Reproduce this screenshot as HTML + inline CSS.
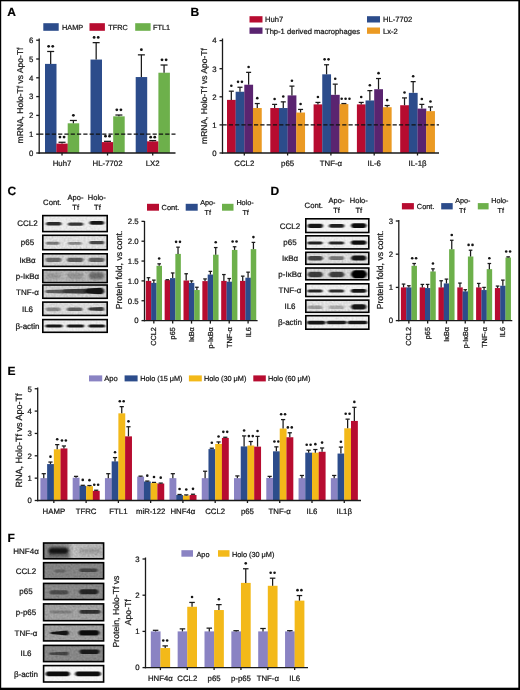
<!DOCTYPE html><html><head><meta charset="utf-8"><style>html,body{margin:0;padding:0;background:#fff;}svg{display:block;filter:blur(0.4px);}text{font-family:"Liberation Sans", sans-serif;stroke:#151515;stroke-width:0.22px;text-rendering:geometricPrecision;}</style></head><body><svg width="520" height="690" viewBox="0 0 520 690" font-family='"Liberation Sans", sans-serif'>
<defs><filter id="b1" x="-30%" y="-100%" width="160%" height="300%"><feGaussianBlur stdDeviation="0.9 0.7"/></filter><filter id="b2" x="-30%" y="-100%" width="160%" height="300%"><feGaussianBlur stdDeviation="1.4 1.0"/></filter><filter id="bb0_9" x="-30%" y="-150%" width="160%" height="400%"><feGaussianBlur stdDeviation="0.9 0.7"/></filter><filter id="bb1_3" x="-30%" y="-150%" width="160%" height="400%"><feGaussianBlur stdDeviation="1.3 1.0"/></filter><filter id="bb1_8" x="-30%" y="-150%" width="160%" height="400%"><feGaussianBlur stdDeviation="1.8 1.4"/></filter><filter id="noise" x="0" y="0" width="100%" height="100%"><feTurbulence type="fractalNoise" baseFrequency="0.5" numOctaves="2" seed="3"/><feColorMatrix type="matrix" values="0 0 0 0 0  0 0 0 0 0  0 0 0 0 0  0.8 0.8 0.8 0 -0.95"/></filter></defs>
<rect x="0" y="0" width="520" height="690" fill="#fff"/>
<text x="7.2" y="15.6" font-size="12" text-anchor="start" font-weight="bold" fill="#000">A</text>
<rect x="45" y="63.89" width="11.5" height="89.11" fill="#2c4c8b"/>
<line x1="50.67" y1="63.89" x2="50.67" y2="51.48" stroke="#1a1a1a" stroke-width="1.25"/>
<line x1="47.17" y1="51.48" x2="54.17" y2="51.48" stroke="#1a1a1a" stroke-width="1.25"/>
<circle cx="48.62" cy="46.28" r="1.4" fill="#151515"/>
<circle cx="52.73" cy="46.28" r="1.4" fill="#151515"/>
<rect x="56.35" y="143.6" width="11.5" height="9.4" fill="#b70c30"/>
<line x1="62.02" y1="143.6" x2="62.02" y2="142.28" stroke="#1a1a1a" stroke-width="1.25"/>
<line x1="58.52" y1="142.28" x2="65.53" y2="142.28" stroke="#1a1a1a" stroke-width="1.25"/>
<circle cx="59.98" cy="137.08" r="1.4" fill="#151515"/>
<circle cx="64.08" cy="137.08" r="1.4" fill="#151515"/>
<rect x="67.7" y="123.3" width="11.5" height="29.7" fill="#6db04b"/>
<line x1="73.38" y1="123.3" x2="73.38" y2="120.48" stroke="#1a1a1a" stroke-width="1.25"/>
<line x1="69.88" y1="120.48" x2="76.88" y2="120.48" stroke="#1a1a1a" stroke-width="1.25"/>
<circle cx="73.38" cy="115.28" r="1.4" fill="#151515"/>
<rect x="90.5" y="59.56" width="11.5" height="93.44" fill="#2c4c8b"/>
<line x1="96.17" y1="59.56" x2="96.17" y2="42.64" stroke="#1a1a1a" stroke-width="1.25"/>
<line x1="92.67" y1="42.64" x2="99.67" y2="42.64" stroke="#1a1a1a" stroke-width="1.25"/>
<circle cx="94.12" cy="37.44" r="1.4" fill="#151515"/>
<circle cx="98.22" cy="37.44" r="1.4" fill="#151515"/>
<rect x="101.85" y="142.1" width="11.5" height="10.9" fill="#b70c30"/>
<line x1="107.52" y1="142.1" x2="107.52" y2="141.34" stroke="#1a1a1a" stroke-width="1.25"/>
<line x1="104.02" y1="141.34" x2="111.02" y2="141.34" stroke="#1a1a1a" stroke-width="1.25"/>
<circle cx="105.47" cy="136.14" r="1.4" fill="#151515"/>
<circle cx="109.57" cy="136.14" r="1.4" fill="#151515"/>
<rect x="113.2" y="116.34" width="11.5" height="36.66" fill="#6db04b"/>
<line x1="118.88" y1="116.34" x2="118.88" y2="115.02" stroke="#1a1a1a" stroke-width="1.25"/>
<line x1="115.38" y1="115.02" x2="122.38" y2="115.02" stroke="#1a1a1a" stroke-width="1.25"/>
<circle cx="116.83" cy="109.82" r="1.4" fill="#151515"/>
<circle cx="120.92" cy="109.82" r="1.4" fill="#151515"/>
<rect x="135.7" y="77.05" width="11.5" height="75.95" fill="#2c4c8b"/>
<line x1="141.38" y1="77.05" x2="141.38" y2="54.86" stroke="#1a1a1a" stroke-width="1.25"/>
<line x1="137.88" y1="54.86" x2="144.88" y2="54.86" stroke="#1a1a1a" stroke-width="1.25"/>
<circle cx="141.38" cy="49.66" r="1.4" fill="#151515"/>
<rect x="147.05" y="141.34" width="11.5" height="11.66" fill="#b70c30"/>
<line x1="152.72" y1="141.34" x2="152.72" y2="140.59" stroke="#1a1a1a" stroke-width="1.25"/>
<line x1="149.22" y1="140.59" x2="156.22" y2="140.59" stroke="#1a1a1a" stroke-width="1.25"/>
<circle cx="150.67" cy="137.19" r="1.4" fill="#151515"/>
<circle cx="154.77" cy="137.19" r="1.4" fill="#151515"/>
<rect x="158.4" y="72.72" width="11.5" height="80.28" fill="#6db04b"/>
<line x1="164.07" y1="72.72" x2="164.07" y2="65.02" stroke="#1a1a1a" stroke-width="1.25"/>
<line x1="160.57" y1="65.02" x2="167.57" y2="65.02" stroke="#1a1a1a" stroke-width="1.25"/>
<circle cx="162.02" cy="59.82" r="1.4" fill="#151515"/>
<circle cx="166.12" cy="59.82" r="1.4" fill="#151515"/>
<line x1="39.2" y1="134.2" x2="175.5" y2="134.2" stroke="#111" stroke-width="1.3" stroke-dasharray="4.2 2.1"/>
<line x1="39.2" y1="38.5" x2="39.2" y2="153.65" stroke="#1a1a1a" stroke-width="1.3"/>
<line x1="38.55" y1="153" x2="175.5" y2="153" stroke="#1a1a1a" stroke-width="1.3"/>
<line x1="36.2" y1="153" x2="39.2" y2="153" stroke="#1a1a1a" stroke-width="1.3"/>
<text x="33.4" y="155.81" font-size="7.8" text-anchor="end" fill="#151515">0</text>
<line x1="36.2" y1="134.2" x2="39.2" y2="134.2" stroke="#1a1a1a" stroke-width="1.3"/>
<text x="33.4" y="137.01" font-size="7.8" text-anchor="end" fill="#151515">1</text>
<line x1="36.2" y1="115.4" x2="39.2" y2="115.4" stroke="#1a1a1a" stroke-width="1.3"/>
<text x="33.4" y="118.21" font-size="7.8" text-anchor="end" fill="#151515">2</text>
<line x1="36.2" y1="96.6" x2="39.2" y2="96.6" stroke="#1a1a1a" stroke-width="1.3"/>
<text x="33.4" y="99.41" font-size="7.8" text-anchor="end" fill="#151515">3</text>
<line x1="36.2" y1="77.8" x2="39.2" y2="77.8" stroke="#1a1a1a" stroke-width="1.3"/>
<text x="33.4" y="80.61" font-size="7.8" text-anchor="end" fill="#151515">4</text>
<line x1="36.2" y1="59" x2="39.2" y2="59" stroke="#1a1a1a" stroke-width="1.3"/>
<text x="33.4" y="61.81" font-size="7.8" text-anchor="end" fill="#151515">5</text>
<line x1="36.2" y1="40.2" x2="39.2" y2="40.2" stroke="#1a1a1a" stroke-width="1.3"/>
<text x="33.4" y="43.01" font-size="7.8" text-anchor="end" fill="#151515">6</text>
<line x1="62.02" y1="153" x2="62.02" y2="155.5" stroke="#1a1a1a" stroke-width="1.3"/>
<line x1="107.53" y1="153" x2="107.53" y2="155.5" stroke="#1a1a1a" stroke-width="1.3"/>
<line x1="152.72" y1="153" x2="152.72" y2="155.5" stroke="#1a1a1a" stroke-width="1.3"/>
<text x="62.02" y="166" font-size="7.8" text-anchor="middle" fill="#151515">Huh7</text>
<text x="107.53" y="166" font-size="7.8" text-anchor="middle" fill="#151515">HL-7702</text>
<text x="152.72" y="166" font-size="7.8" text-anchor="middle" fill="#151515">LX2</text>
<text x="22.5" y="95.5" font-size="8.5" text-anchor="middle" fill="#151515" transform="rotate(-90 22.5 95.5)">mRNA, Holo-Tf vs Apo-Tf</text>
<rect x="43.3" y="23.2" width="15.4" height="7.6" fill="#2c4c8b"/>
<text x="62" y="29.5" font-size="7.3" text-anchor="start" fill="#151515">HAMP</text>
<rect x="89.5" y="23.2" width="15.4" height="7.6" fill="#b70c30"/>
<text x="108.3" y="29.5" font-size="7.3" text-anchor="start" fill="#151515">TFRC</text>
<rect x="135.2" y="23.2" width="15.4" height="7.6" fill="#6db04b"/>
<text x="153" y="29.5" font-size="7.3" text-anchor="start" fill="#151515">FTL1</text>
<text x="190.5" y="15.6" font-size="12" text-anchor="start" font-weight="bold" fill="#000">B</text>
<rect x="227" y="99.89" width="8.8" height="53.11" fill="#b70c30"/>
<line x1="231.32" y1="99.89" x2="231.32" y2="91.18" stroke="#1a1a1a" stroke-width="1.25"/>
<line x1="228.82" y1="91.18" x2="233.82" y2="91.18" stroke="#1a1a1a" stroke-width="1.25"/>
<circle cx="231.32" cy="85.78" r="1.3" fill="#151515"/>
<rect x="235.65" y="91.74" width="8.8" height="61.26" fill="#2c4c8b"/>
<line x1="239.97" y1="91.74" x2="239.97" y2="87.25" stroke="#1a1a1a" stroke-width="1.25"/>
<line x1="237.47" y1="87.25" x2="242.47" y2="87.25" stroke="#1a1a1a" stroke-width="1.25"/>
<circle cx="238.03" cy="81.85" r="1.3" fill="#151515"/>
<circle cx="241.93" cy="81.85" r="1.3" fill="#151515"/>
<rect x="244.3" y="84.72" width="8.8" height="68.28" fill="#5a2470"/>
<line x1="248.62" y1="84.72" x2="248.62" y2="72.35" stroke="#1a1a1a" stroke-width="1.25"/>
<line x1="246.12" y1="72.35" x2="251.12" y2="72.35" stroke="#1a1a1a" stroke-width="1.25"/>
<circle cx="248.62" cy="66.95" r="1.3" fill="#151515"/>
<rect x="252.95" y="108.04" width="8.8" height="44.96" fill="#eb9a23"/>
<line x1="257.27" y1="108.04" x2="257.27" y2="103.54" stroke="#1a1a1a" stroke-width="1.25"/>
<line x1="254.77" y1="103.54" x2="259.77" y2="103.54" stroke="#1a1a1a" stroke-width="1.25"/>
<circle cx="257.27" cy="98.14" r="1.3" fill="#151515"/>
<rect x="270.3" y="108.04" width="8.8" height="44.96" fill="#b70c30"/>
<line x1="274.62" y1="108.04" x2="274.62" y2="104.39" stroke="#1a1a1a" stroke-width="1.25"/>
<line x1="272.12" y1="104.39" x2="277.12" y2="104.39" stroke="#1a1a1a" stroke-width="1.25"/>
<circle cx="274.62" cy="98.99" r="1.3" fill="#151515"/>
<rect x="278.95" y="108.04" width="8.8" height="44.96" fill="#2c4c8b"/>
<line x1="283.27" y1="108.04" x2="283.27" y2="101.86" stroke="#1a1a1a" stroke-width="1.25"/>
<line x1="280.77" y1="101.86" x2="285.77" y2="101.86" stroke="#1a1a1a" stroke-width="1.25"/>
<circle cx="283.27" cy="96.46" r="1.3" fill="#151515"/>
<rect x="287.6" y="95.4" width="8.8" height="57.6" fill="#5a2470"/>
<line x1="291.93" y1="95.4" x2="291.93" y2="86.12" stroke="#1a1a1a" stroke-width="1.25"/>
<line x1="289.43" y1="86.12" x2="294.43" y2="86.12" stroke="#1a1a1a" stroke-width="1.25"/>
<circle cx="291.93" cy="80.72" r="1.3" fill="#151515"/>
<rect x="296.25" y="112.54" width="8.8" height="40.46" fill="#eb9a23"/>
<line x1="300.57" y1="112.54" x2="300.57" y2="109.44" stroke="#1a1a1a" stroke-width="1.25"/>
<line x1="298.07" y1="109.44" x2="303.07" y2="109.44" stroke="#1a1a1a" stroke-width="1.25"/>
<circle cx="300.57" cy="104.04" r="1.3" fill="#151515"/>
<rect x="313.6" y="104.39" width="8.8" height="48.61" fill="#b70c30"/>
<line x1="317.93" y1="104.39" x2="317.93" y2="102.42" stroke="#1a1a1a" stroke-width="1.25"/>
<line x1="315.43" y1="102.42" x2="320.43" y2="102.42" stroke="#1a1a1a" stroke-width="1.25"/>
<circle cx="317.93" cy="97.02" r="1.3" fill="#151515"/>
<rect x="322.25" y="74.32" width="8.8" height="78.68" fill="#2c4c8b"/>
<line x1="326.57" y1="74.32" x2="326.57" y2="64.77" stroke="#1a1a1a" stroke-width="1.25"/>
<line x1="324.07" y1="64.77" x2="329.07" y2="64.77" stroke="#1a1a1a" stroke-width="1.25"/>
<circle cx="324.62" cy="59.37" r="1.3" fill="#151515"/>
<circle cx="328.52" cy="59.37" r="1.3" fill="#151515"/>
<rect x="330.9" y="94.83" width="8.8" height="58.17" fill="#5a2470"/>
<line x1="335.23" y1="94.83" x2="335.23" y2="84.15" stroke="#1a1a1a" stroke-width="1.25"/>
<line x1="332.73" y1="84.15" x2="337.73" y2="84.15" stroke="#1a1a1a" stroke-width="1.25"/>
<circle cx="335.23" cy="78.75" r="1.3" fill="#151515"/>
<rect x="339.55" y="104.11" width="8.8" height="48.89" fill="#eb9a23"/>
<line x1="343.88" y1="104.11" x2="343.88" y2="103.54" stroke="#1a1a1a" stroke-width="1.25"/>
<line x1="341.38" y1="103.54" x2="346.38" y2="103.54" stroke="#1a1a1a" stroke-width="1.25"/>
<circle cx="341.68" cy="98.74" r="1.3" fill="#151515"/>
<circle cx="345.57" cy="98.74" r="1.3" fill="#151515"/>
<circle cx="349.48" cy="98.74" r="1.3" fill="#151515"/>
<rect x="356.9" y="104.39" width="8.8" height="48.61" fill="#b70c30"/>
<line x1="361.22" y1="104.39" x2="361.22" y2="102.42" stroke="#1a1a1a" stroke-width="1.25"/>
<line x1="358.72" y1="102.42" x2="363.72" y2="102.42" stroke="#1a1a1a" stroke-width="1.25"/>
<circle cx="361.22" cy="97.02" r="1.3" fill="#151515"/>
<rect x="365.55" y="100.45" width="8.8" height="52.55" fill="#2c4c8b"/>
<line x1="369.87" y1="100.45" x2="369.87" y2="90.62" stroke="#1a1a1a" stroke-width="1.25"/>
<line x1="367.37" y1="90.62" x2="372.37" y2="90.62" stroke="#1a1a1a" stroke-width="1.25"/>
<circle cx="369.87" cy="85.22" r="1.3" fill="#151515"/>
<rect x="374.2" y="89.21" width="8.8" height="63.79" fill="#5a2470"/>
<line x1="378.52" y1="89.21" x2="378.52" y2="78.53" stroke="#1a1a1a" stroke-width="1.25"/>
<line x1="376.02" y1="78.53" x2="381.02" y2="78.53" stroke="#1a1a1a" stroke-width="1.25"/>
<circle cx="378.52" cy="73.13" r="1.3" fill="#151515"/>
<rect x="382.85" y="107.2" width="8.8" height="45.8" fill="#eb9a23"/>
<line x1="387.17" y1="107.2" x2="387.17" y2="105.51" stroke="#1a1a1a" stroke-width="1.25"/>
<line x1="384.67" y1="105.51" x2="389.67" y2="105.51" stroke="#1a1a1a" stroke-width="1.25"/>
<circle cx="387.17" cy="100.11" r="1.3" fill="#151515"/>
<rect x="400.2" y="105.23" width="8.8" height="47.77" fill="#b70c30"/>
<line x1="404.52" y1="105.23" x2="404.52" y2="97.92" stroke="#1a1a1a" stroke-width="1.25"/>
<line x1="402.02" y1="97.92" x2="407.02" y2="97.92" stroke="#1a1a1a" stroke-width="1.25"/>
<circle cx="404.52" cy="92.52" r="1.3" fill="#151515"/>
<rect x="408.85" y="92.87" width="8.8" height="60.13" fill="#2c4c8b"/>
<line x1="413.17" y1="92.87" x2="413.17" y2="81.63" stroke="#1a1a1a" stroke-width="1.25"/>
<line x1="410.67" y1="81.63" x2="415.67" y2="81.63" stroke="#1a1a1a" stroke-width="1.25"/>
<circle cx="413.17" cy="76.23" r="1.3" fill="#151515"/>
<rect x="417.5" y="108.6" width="8.8" height="44.4" fill="#5a2470"/>
<line x1="421.82" y1="108.6" x2="421.82" y2="104.39" stroke="#1a1a1a" stroke-width="1.25"/>
<line x1="419.32" y1="104.39" x2="424.32" y2="104.39" stroke="#1a1a1a" stroke-width="1.25"/>
<circle cx="421.82" cy="98.99" r="1.3" fill="#151515"/>
<rect x="426.15" y="111.13" width="8.8" height="41.87" fill="#eb9a23"/>
<line x1="430.47" y1="111.13" x2="430.47" y2="106.92" stroke="#1a1a1a" stroke-width="1.25"/>
<line x1="427.97" y1="106.92" x2="432.97" y2="106.92" stroke="#1a1a1a" stroke-width="1.25"/>
<circle cx="430.47" cy="101.52" r="1.3" fill="#151515"/>
<line x1="222.5" y1="124.9" x2="439" y2="124.9" stroke="#111" stroke-width="1.3" stroke-dasharray="4.2 2.1"/>
<line x1="222.5" y1="38.5" x2="222.5" y2="153.65" stroke="#1a1a1a" stroke-width="1.3"/>
<line x1="221.85" y1="153" x2="439" y2="153" stroke="#1a1a1a" stroke-width="1.3"/>
<line x1="219.5" y1="153" x2="222.5" y2="153" stroke="#1a1a1a" stroke-width="1.3"/>
<text x="216.7" y="155.81" font-size="7.8" text-anchor="end" fill="#151515">0</text>
<line x1="219.5" y1="124.9" x2="222.5" y2="124.9" stroke="#1a1a1a" stroke-width="1.3"/>
<text x="216.7" y="127.71" font-size="7.8" text-anchor="end" fill="#151515">1</text>
<line x1="219.5" y1="96.8" x2="222.5" y2="96.8" stroke="#1a1a1a" stroke-width="1.3"/>
<text x="216.7" y="99.61" font-size="7.8" text-anchor="end" fill="#151515">2</text>
<line x1="219.5" y1="68.7" x2="222.5" y2="68.7" stroke="#1a1a1a" stroke-width="1.3"/>
<text x="216.7" y="71.51" font-size="7.8" text-anchor="end" fill="#151515">3</text>
<line x1="219.5" y1="40.6" x2="222.5" y2="40.6" stroke="#1a1a1a" stroke-width="1.3"/>
<text x="216.7" y="43.41" font-size="7.8" text-anchor="end" fill="#151515">4</text>
<line x1="244.3" y1="153" x2="244.3" y2="155.5" stroke="#1a1a1a" stroke-width="1.3"/>
<line x1="287.6" y1="153" x2="287.6" y2="155.5" stroke="#1a1a1a" stroke-width="1.3"/>
<line x1="330.9" y1="153" x2="330.9" y2="155.5" stroke="#1a1a1a" stroke-width="1.3"/>
<line x1="374.2" y1="153" x2="374.2" y2="155.5" stroke="#1a1a1a" stroke-width="1.3"/>
<line x1="417.5" y1="153" x2="417.5" y2="155.5" stroke="#1a1a1a" stroke-width="1.3"/>
<text x="244.3" y="165.7" font-size="7.8" text-anchor="middle" fill="#151515">CCL2</text>
<text x="287.6" y="165.7" font-size="7.8" text-anchor="middle" fill="#151515">p65</text>
<text x="330.9" y="165.7" font-size="7.8" text-anchor="middle" fill="#151515">TNF-α</text>
<text x="374.2" y="165.7" font-size="7.8" text-anchor="middle" fill="#151515">IL-6</text>
<text x="417.5" y="165.7" font-size="7.8" text-anchor="middle" fill="#151515">IL-1β</text>
<text x="206.5" y="96" font-size="8.5" text-anchor="middle" fill="#151515" transform="rotate(-90 206.5 96)">mRNA, Holo-Tf vs Apo-Tf</text>
<rect x="249.5" y="16.2" width="13" height="6.3" fill="#b70c30"/>
<text x="265" y="22.3" font-size="7.6" text-anchor="start" fill="#151515">Huh7</text>
<rect x="249.5" y="27.5" width="13" height="6.3" fill="#5a2470"/>
<text x="265" y="33.6" font-size="7.6" text-anchor="start" fill="#151515">Thp-1 derived macrophages</text>
<rect x="367" y="16.2" width="13" height="6.3" fill="#2c4c8b"/>
<text x="383" y="22.3" font-size="7.6" text-anchor="start" fill="#151515">HL-7702</text>
<rect x="367" y="27.5" width="13" height="6.3" fill="#eb9a23"/>
<text x="383" y="33.6" font-size="7.6" text-anchor="start" fill="#151515">Lx-2</text>
<text x="7.5" y="195.2" font-size="12" text-anchor="start" font-weight="bold" fill="#000">C</text>
<text x="52.3" y="205.2" font-size="7.7" text-anchor="middle" fill="#151515">Cont.</text>
<text x="75.5" y="200" font-size="7.5" text-anchor="middle" fill="#151515">Apo-</text>
<text x="75.7" y="210" font-size="7.5" text-anchor="middle" fill="#151515">Tf</text>
<text x="96.8" y="200" font-size="7.5" text-anchor="middle" fill="#151515">Holo-</text>
<text x="97.4" y="210" font-size="7.5" text-anchor="middle" fill="#151515">Tf</text>
<clipPath id="cp1"><rect x="42.8" y="215.6" width="64.4" height="16"/></clipPath>
<rect x="42.8" y="215.6" width="64.4" height="16" fill="#f0f0f0"/>
<g clip-path="url(#cp1)">
<path d="M47.3,222 L60.2,222 Q63.08,223.8 60.2,225.6 L47.3,225.6 Q44.42,223.8 47.3,222 Z" fill="#2d2d2d" filter="url(#bb0_9)"/>
<path d="M69.2,222.4 L82,222.4 Q84.72,224.1 82,225.8 L69.2,225.8 Q66.48,224.1 69.2,222.4 Z" fill="#373737" filter="url(#bb0_9)"/>
<path d="M90.9,220.9 L102.7,220.9 Q105.74,222.8 102.7,224.7 L90.9,224.7 Q87.86,222.8 90.9,220.9 Z" fill="#191919" filter="url(#bb0_9)"/>
<rect x="42.8" y="215.6" width="64.4" height="16" filter="url(#noise)" opacity="0.1"/>
</g>
<rect x="42.8" y="215.6" width="64.4" height="16" fill="none" stroke="#000" stroke-width="1.6"/>
<text x="27.5" y="226.48" font-size="8" text-anchor="middle" fill="#151515">CCL2</text>
<clipPath id="cp2"><rect x="42.8" y="235.3" width="64.4" height="14.4"/></clipPath>
<rect x="42.8" y="235.3" width="64.4" height="14.4" fill="#e8e8e8"/>
<g clip-path="url(#cp2)">
<path d="M47,241.7 L58.5,241.7 Q60.9,243.2 58.5,244.7 L47,244.7 Q44.6,243.2 47,241.7 Z" fill="#7d7d7d" filter="url(#bb0_9)"/>
<path d="M68.8,242.1 L80.7,242.1 Q82.78,243.4 80.7,244.7 L68.8,244.7 Q66.72,243.4 68.8,242.1 Z" fill="#8c8c8c" filter="url(#bb0_9)"/>
<path d="M90.6,241.1 L103,241.1 Q105.56,242.7 103,244.3 L90.6,244.3 Q88.04,242.7 90.6,241.1 Z" fill="#4b4b4b" filter="url(#bb0_9)"/>
<rect x="42.8" y="235.3" width="64.4" height="14.4" filter="url(#noise)" opacity="0.16"/>
</g>
<rect x="42.8" y="235.3" width="64.4" height="14.4" fill="none" stroke="#000" stroke-width="1.6"/>
<text x="27.5" y="245.38" font-size="8" text-anchor="middle" fill="#151515">p65</text>
<clipPath id="cp3"><rect x="42.8" y="253.8" width="64.4" height="12.6"/></clipPath>
<rect x="42.8" y="253.8" width="64.4" height="12.6" fill="#dadada"/>
<g clip-path="url(#cp3)">
<path d="M47.1,257.7 L59.9,257.7 Q63.26,259.8 59.9,261.9 L47.1,261.9 Q43.74,259.8 47.1,257.7 Z" fill="#6e6e6e" filter="url(#bb0_9)"/>
<path d="M68.6,257.7 L81.9,257.7 Q85.26,259.8 81.9,261.9 L68.6,261.9 Q65.24,259.8 68.6,257.7 Z" fill="#5f5f5f" filter="url(#bb0_9)"/>
<path d="M90.1,257.7 L102.9,257.7 Q106.26,259.8 102.9,261.9 L90.1,261.9 Q86.74,259.8 90.1,257.7 Z" fill="#646464" filter="url(#bb0_9)"/>
<rect x="42.8" y="253.8" width="64.4" height="12.6" filter="url(#noise)" opacity="0.16"/>
</g>
<rect x="42.8" y="253.8" width="64.4" height="12.6" fill="none" stroke="#000" stroke-width="1.6"/>
<text x="27.5" y="262.98" font-size="8" text-anchor="middle" fill="#151515">IκBα</text>
<clipPath id="cp4"><rect x="42.8" y="269.9" width="64.4" height="12.7"/></clipPath>
<rect x="42.8" y="269.9" width="64.4" height="12.7" fill="#bcbcbc"/>
<g clip-path="url(#cp4)">
<path d="M48,272.7 L59,272.7 Q63.8,275.7 59,278.7 L48,278.7 Q43.2,275.7 48,272.7 Z" fill="#a0a0a0" filter="url(#bb1_3)"/>
<path d="M69.5,272.7 L81,272.7 Q85.8,275.7 81,278.7 L69.5,278.7 Q64.7,275.7 69.5,272.7 Z" fill="#969696" filter="url(#bb1_3)"/>
<path d="M91.5,272.2 L101.5,272.2 Q107.1,275.7 101.5,279.2 L91.5,279.2 Q85.9,275.7 91.5,272.2 Z" fill="#6e6e6e" filter="url(#bb1_3)"/>
<rect x="42.8" y="269.9" width="64.4" height="12.7" filter="url(#noise)" opacity="0.2"/>
</g>
<rect x="42.8" y="269.9" width="64.4" height="12.7" fill="none" stroke="#000" stroke-width="1.6"/>
<text x="27.5" y="279.13" font-size="8" text-anchor="middle" fill="#151515">p-IκBα</text>
<clipPath id="cp5"><rect x="42.8" y="285" width="64.4" height="13.3"/></clipPath>
<rect x="42.8" y="285" width="64.4" height="13.3" fill="#d8d8d8"/>
<g clip-path="url(#cp5)">
<path d="M46.5,290 L64,289.5 Q67.2,291.5 64,293.5 L46.5,293 Q44.1,291.5 46.5,290 Z" fill="#5f5f5f" filter="url(#bb0_9)"/>
<path d="M64,289.3 L85.5,288.8 Q89.5,291.3 85.5,293.8 L64,293.3 Q60.8,291.3 64,289.3 Z" fill="#3c3c3c" filter="url(#bb0_9)"/>
<path d="M86.5,288.5 L101.75,287.75 Q106.95,291 101.75,294.25 L86.5,293.5 Q82.5,291 86.5,288.5 Z" fill="#141414" filter="url(#bb0_9)"/>
<rect x="42.8" y="285" width="64.4" height="13.3" filter="url(#noise)" opacity="0.16"/>
</g>
<rect x="42.8" y="285" width="64.4" height="13.3" fill="none" stroke="#000" stroke-width="1.6"/>
<text x="27.5" y="294.53" font-size="8" text-anchor="middle" fill="#151515">TNF-α</text>
<clipPath id="cp6"><rect x="42.8" y="302.1" width="64.4" height="13.3"/></clipPath>
<rect x="42.8" y="302.1" width="64.4" height="13.3" fill="#e2e2e2"/>
<g clip-path="url(#cp6)">
<path d="M47.3,307.6 L59.2,307.6 Q62.08,309.4 59.2,311.2 L47.3,311.2 Q44.42,309.4 47.3,307.6 Z" fill="#8c8c8c" filter="url(#bb0_9)"/>
<path d="M68.3,307.4 L81.2,307.4 Q84.08,309.2 81.2,311 L68.3,311 Q65.42,309.2 68.3,307.4 Z" fill="#646464" filter="url(#bb0_9)"/>
<path d="M89.5,307.5 L102.6,307 Q105.8,309 102.6,311 L89.5,310.5 Q87.1,309 89.5,307.5 Z" fill="#3c3c3c" filter="url(#bb0_9)"/>
<rect x="42.8" y="302.1" width="64.4" height="13.3" filter="url(#noise)" opacity="0.16"/>
</g>
<rect x="42.8" y="302.1" width="64.4" height="13.3" fill="none" stroke="#000" stroke-width="1.6"/>
<text x="27.5" y="311.63" font-size="8" text-anchor="middle" fill="#151515">IL6</text>
<clipPath id="cp7"><rect x="42.8" y="319.6" width="64.4" height="12.7"/></clipPath>
<rect x="42.8" y="319.6" width="64.4" height="12.7" fill="#f0f0f0"/>
<g clip-path="url(#cp7)">
<path d="M46.5,324.4 L61.5,324.4 Q63.9,325.9 61.5,327.4 L46.5,327.4 Q44.1,325.9 46.5,324.4 Z" fill="#191919" filter="url(#bb0_9)"/>
<path d="M68,324.4 L83,324.4 Q85.4,325.9 83,327.4 L68,327.4 Q65.6,325.9 68,324.4 Z" fill="#191919" filter="url(#bb0_9)"/>
<path d="M89.5,324.4 L104,324.4 Q106.4,325.9 104,327.4 L89.5,327.4 Q87.1,325.9 89.5,324.4 Z" fill="#191919" filter="url(#bb0_9)"/>
<rect x="42.8" y="319.6" width="64.4" height="12.7" filter="url(#noise)" opacity="0.1"/>
</g>
<rect x="42.8" y="319.6" width="64.4" height="12.7" fill="none" stroke="#000" stroke-width="1.6"/>
<text x="27.5" y="328.83" font-size="8" text-anchor="middle" fill="#151515">β-actin</text>
<rect x="145.8" y="280.9" width="5.5" height="39.7" fill="#b70c30"/>
<line x1="148.48" y1="280.9" x2="148.48" y2="277.72" stroke="#1a1a1a" stroke-width="1.25"/>
<line x1="146.68" y1="277.72" x2="150.28" y2="277.72" stroke="#1a1a1a" stroke-width="1.25"/>
<rect x="151.15" y="282.88" width="5.5" height="37.72" fill="#2c4c8b"/>
<line x1="153.83" y1="282.88" x2="153.83" y2="280.11" stroke="#1a1a1a" stroke-width="1.25"/>
<line x1="152.03" y1="280.11" x2="155.63" y2="280.11" stroke="#1a1a1a" stroke-width="1.25"/>
<rect x="156.5" y="265.81" width="5.5" height="54.79" fill="#6db04b"/>
<line x1="159.18" y1="265.81" x2="159.18" y2="263.83" stroke="#1a1a1a" stroke-width="1.25"/>
<line x1="157.38" y1="263.83" x2="160.98" y2="263.83" stroke="#1a1a1a" stroke-width="1.25"/>
<circle cx="159.18" cy="258.53" r="1.3" fill="#151515"/>
<rect x="164.65" y="280.11" width="5.5" height="40.49" fill="#b70c30"/>
<line x1="167.33" y1="280.11" x2="167.33" y2="279.71" stroke="#1a1a1a" stroke-width="1.25"/>
<line x1="165.53" y1="279.71" x2="169.13" y2="279.71" stroke="#1a1a1a" stroke-width="1.25"/>
<rect x="170" y="278.12" width="5.5" height="42.48" fill="#2c4c8b"/>
<line x1="172.68" y1="278.12" x2="172.68" y2="272.96" stroke="#1a1a1a" stroke-width="1.25"/>
<line x1="170.88" y1="272.96" x2="174.48" y2="272.96" stroke="#1a1a1a" stroke-width="1.25"/>
<rect x="175.35" y="253.9" width="5.5" height="66.7" fill="#6db04b"/>
<line x1="178.03" y1="253.9" x2="178.03" y2="247.16" stroke="#1a1a1a" stroke-width="1.25"/>
<line x1="176.22" y1="247.16" x2="179.83" y2="247.16" stroke="#1a1a1a" stroke-width="1.25"/>
<circle cx="176.08" cy="241.86" r="1.3" fill="#151515"/>
<circle cx="179.98" cy="241.86" r="1.3" fill="#151515"/>
<rect x="183.5" y="280.5" width="5.5" height="40.1" fill="#b70c30"/>
<line x1="186.18" y1="280.5" x2="186.18" y2="273.75" stroke="#1a1a1a" stroke-width="1.25"/>
<line x1="184.38" y1="273.75" x2="187.98" y2="273.75" stroke="#1a1a1a" stroke-width="1.25"/>
<rect x="188.85" y="282.88" width="5.5" height="37.72" fill="#2c4c8b"/>
<line x1="191.53" y1="282.88" x2="191.53" y2="280.9" stroke="#1a1a1a" stroke-width="1.25"/>
<line x1="189.72" y1="280.9" x2="193.33" y2="280.9" stroke="#1a1a1a" stroke-width="1.25"/>
<rect x="194.2" y="290.03" width="5.5" height="30.57" fill="#6db04b"/>
<line x1="196.88" y1="290.03" x2="196.88" y2="287.25" stroke="#1a1a1a" stroke-width="1.25"/>
<line x1="195.07" y1="287.25" x2="198.68" y2="287.25" stroke="#1a1a1a" stroke-width="1.25"/>
<rect x="202.35" y="281.1" width="5.5" height="39.5" fill="#b70c30"/>
<line x1="205.03" y1="281.1" x2="205.03" y2="278.92" stroke="#1a1a1a" stroke-width="1.25"/>
<line x1="203.22" y1="278.92" x2="206.83" y2="278.92" stroke="#1a1a1a" stroke-width="1.25"/>
<rect x="207.7" y="274.55" width="5.5" height="46.05" fill="#2c4c8b"/>
<line x1="210.38" y1="274.55" x2="210.38" y2="271.37" stroke="#1a1a1a" stroke-width="1.25"/>
<line x1="208.57" y1="271.37" x2="212.18" y2="271.37" stroke="#1a1a1a" stroke-width="1.25"/>
<rect x="213.05" y="254.7" width="5.5" height="65.9" fill="#6db04b"/>
<line x1="215.72" y1="254.7" x2="215.72" y2="247.55" stroke="#1a1a1a" stroke-width="1.25"/>
<line x1="213.92" y1="247.55" x2="217.53" y2="247.55" stroke="#1a1a1a" stroke-width="1.25"/>
<circle cx="215.72" cy="242.25" r="1.3" fill="#151515"/>
<rect x="221.2" y="280.9" width="5.5" height="39.7" fill="#b70c30"/>
<line x1="223.88" y1="280.9" x2="223.88" y2="274.55" stroke="#1a1a1a" stroke-width="1.25"/>
<line x1="222.07" y1="274.55" x2="225.68" y2="274.55" stroke="#1a1a1a" stroke-width="1.25"/>
<rect x="226.55" y="281.69" width="5.5" height="38.91" fill="#2c4c8b"/>
<line x1="229.22" y1="281.69" x2="229.22" y2="278.52" stroke="#1a1a1a" stroke-width="1.25"/>
<line x1="227.42" y1="278.52" x2="231.03" y2="278.52" stroke="#1a1a1a" stroke-width="1.25"/>
<rect x="231.9" y="249.93" width="5.5" height="70.67" fill="#6db04b"/>
<line x1="234.57" y1="249.93" x2="234.57" y2="246.76" stroke="#1a1a1a" stroke-width="1.25"/>
<line x1="232.77" y1="246.76" x2="236.38" y2="246.76" stroke="#1a1a1a" stroke-width="1.25"/>
<circle cx="232.62" cy="241.46" r="1.3" fill="#151515"/>
<circle cx="236.53" cy="241.46" r="1.3" fill="#151515"/>
<rect x="240.05" y="280.9" width="5.5" height="39.7" fill="#b70c30"/>
<line x1="242.73" y1="280.9" x2="242.73" y2="276.14" stroke="#1a1a1a" stroke-width="1.25"/>
<line x1="240.93" y1="276.14" x2="244.53" y2="276.14" stroke="#1a1a1a" stroke-width="1.25"/>
<rect x="245.4" y="277.72" width="5.5" height="42.88" fill="#2c4c8b"/>
<line x1="248.08" y1="277.72" x2="248.08" y2="272.17" stroke="#1a1a1a" stroke-width="1.25"/>
<line x1="246.28" y1="272.17" x2="249.88" y2="272.17" stroke="#1a1a1a" stroke-width="1.25"/>
<rect x="250.75" y="249.14" width="5.5" height="71.46" fill="#6db04b"/>
<line x1="253.43" y1="249.14" x2="253.43" y2="242.39" stroke="#1a1a1a" stroke-width="1.25"/>
<line x1="251.62" y1="242.39" x2="255.23" y2="242.39" stroke="#1a1a1a" stroke-width="1.25"/>
<circle cx="253.43" cy="237.09" r="1.3" fill="#151515"/>
<line x1="144.5" y1="221" x2="144.5" y2="321.25" stroke="#1a1a1a" stroke-width="1.3"/>
<line x1="143.85" y1="320.6" x2="257.6" y2="320.6" stroke="#1a1a1a" stroke-width="1.3"/>
<line x1="141.5" y1="320.6" x2="144.5" y2="320.6" stroke="#1a1a1a" stroke-width="1.3"/>
<text x="138.7" y="323.41" font-size="7.8" text-anchor="end" fill="#151515">0</text>
<line x1="141.5" y1="300.75" x2="144.5" y2="300.75" stroke="#1a1a1a" stroke-width="1.3"/>
<text x="138.7" y="303.56" font-size="7.8" text-anchor="end" fill="#151515">0.5</text>
<line x1="141.5" y1="280.9" x2="144.5" y2="280.9" stroke="#1a1a1a" stroke-width="1.3"/>
<text x="138.7" y="283.71" font-size="7.8" text-anchor="end" fill="#151515">1.0</text>
<line x1="141.5" y1="261.05" x2="144.5" y2="261.05" stroke="#1a1a1a" stroke-width="1.3"/>
<text x="138.7" y="263.86" font-size="7.8" text-anchor="end" fill="#151515">1.5</text>
<line x1="141.5" y1="241.2" x2="144.5" y2="241.2" stroke="#1a1a1a" stroke-width="1.3"/>
<text x="138.7" y="244.01" font-size="7.8" text-anchor="end" fill="#151515">2.0</text>
<line x1="141.5" y1="221.35" x2="144.5" y2="221.35" stroke="#1a1a1a" stroke-width="1.3"/>
<text x="138.7" y="224.16" font-size="7.8" text-anchor="end" fill="#151515">2.5</text>
<line x1="153.83" y1="320.6" x2="153.83" y2="323.6" stroke="#1a1a1a" stroke-width="1.3"/>
<line x1="172.68" y1="320.6" x2="172.68" y2="323.6" stroke="#1a1a1a" stroke-width="1.3"/>
<line x1="191.53" y1="320.6" x2="191.53" y2="323.6" stroke="#1a1a1a" stroke-width="1.3"/>
<line x1="210.38" y1="320.6" x2="210.38" y2="323.6" stroke="#1a1a1a" stroke-width="1.3"/>
<line x1="229.22" y1="320.6" x2="229.22" y2="323.6" stroke="#1a1a1a" stroke-width="1.3"/>
<line x1="248.08" y1="320.6" x2="248.08" y2="323.6" stroke="#1a1a1a" stroke-width="1.3"/>
<text x="156.38" y="327.2" font-size="7.3" text-anchor="end" fill="#151515" transform="rotate(-90 156.38 327.2)">CCL2</text>
<text x="175.23" y="327.2" font-size="7.3" text-anchor="end" fill="#151515" transform="rotate(-90 175.23 327.2)">p65</text>
<text x="194.08" y="327.2" font-size="7.3" text-anchor="end" fill="#151515" transform="rotate(-90 194.08 327.2)">IκBα</text>
<text x="212.93" y="327.2" font-size="7.3" text-anchor="end" fill="#151515" transform="rotate(-90 212.93 327.2)">p-IκBα</text>
<text x="231.78" y="327.2" font-size="7.3" text-anchor="end" fill="#151515" transform="rotate(-90 231.78 327.2)">TNF-α</text>
<text x="250.63" y="327.2" font-size="7.3" text-anchor="end" fill="#151515" transform="rotate(-90 250.63 327.2)">IL6</text>
<text x="121.8" y="270" font-size="8.7" text-anchor="middle" fill="#151515" transform="rotate(-90 121.8 270)">Protein fold, vs cont.</text>
<rect x="147" y="203.8" width="12" height="6.9" fill="#b70c30"/>
<text x="161.6" y="210" font-size="7.4" text-anchor="start" fill="#151515">Cont.</text>
<rect x="185.7" y="203.8" width="12" height="6.9" fill="#2c4c8b"/>
<text x="200.3" y="205" font-size="7.2" text-anchor="start" fill="#151515">Apo-</text>
<text x="207.7" y="214.8" font-size="7.2" text-anchor="middle" fill="#151515">Tf</text>
<rect x="222" y="203.8" width="11.5" height="6.9" fill="#6db04b"/>
<text x="236.4" y="205" font-size="7.2" text-anchor="start" fill="#151515">Holo-</text>
<text x="245.6" y="214.8" font-size="7.2" text-anchor="middle" fill="#151515">Tf</text>
<text x="270.5" y="195.2" font-size="12" text-anchor="start" font-weight="bold" fill="#000">D</text>
<text x="313.8" y="208" font-size="7.7" text-anchor="middle" fill="#151515">Cont.</text>
<text x="336.5" y="202.8" font-size="7.5" text-anchor="middle" fill="#151515">Apo-</text>
<text x="336.5" y="212.5" font-size="7.5" text-anchor="middle" fill="#151515">Tf</text>
<text x="358.8" y="202.8" font-size="7.5" text-anchor="middle" fill="#151515">Holo-</text>
<text x="358.8" y="212.5" font-size="7.5" text-anchor="middle" fill="#151515">Tf</text>
<clipPath id="cp8"><rect x="305.8" y="218.8" width="63" height="13.7"/></clipPath>
<rect x="305.8" y="218.8" width="63" height="13.7" fill="#f6f6f6"/>
<g clip-path="url(#cp8)">
<path d="M309.1,223.7 L321.4,223.7 Q324.76,225.8 321.4,227.9 L309.1,227.9 Q305.74,225.8 309.1,223.7 Z" fill="#191919" filter="url(#bb0_9)"/>
<path d="M330.3,223.9 L342.9,223.9 Q345.94,225.8 342.9,227.7 L330.3,227.7 Q327.26,225.8 330.3,223.9 Z" fill="#232323" filter="url(#bb0_9)"/>
<path d="M352.8,223.3 L364.7,223.3 Q368.38,225.6 364.7,227.9 L352.8,227.9 Q349.12,225.6 352.8,223.3 Z" fill="#0c0c0c" filter="url(#bb0_9)"/>
<rect x="305.8" y="218.8" width="63" height="13.7" filter="url(#noise)" opacity="0.06"/>
</g>
<rect x="305.8" y="218.8" width="63" height="13.7" fill="none" stroke="#000" stroke-width="1.6"/>
<text x="290" y="228.53" font-size="8" text-anchor="middle" fill="#151515">CCL2</text>
<clipPath id="cp9"><rect x="305.8" y="235.8" width="63" height="13.1"/></clipPath>
<rect x="305.8" y="235.8" width="63" height="13.1" fill="#f2f2f2"/>
<g clip-path="url(#cp9)">
<path d="M308.5,241.4 L321.5,241.4 Q323.9,242.9 321.5,244.4 L308.5,244.4 Q306.1,242.9 308.5,241.4 Z" fill="#232323" filter="url(#bb0_9)"/>
<path d="M329.9,241.4 L343,241.4 Q345.4,242.9 343,244.4 L329.9,244.4 Q327.5,242.9 329.9,241.4 Z" fill="#282828" filter="url(#bb0_9)"/>
<path d="M352.6,240.6 L364.9,240.6 Q368.26,242.7 364.9,244.8 L352.6,244.8 Q349.24,242.7 352.6,240.6 Z" fill="#0c0c0c" filter="url(#bb0_9)"/>
<rect x="305.8" y="235.8" width="63" height="13.1" filter="url(#noise)" opacity="0.1"/>
</g>
<rect x="305.8" y="235.8" width="63" height="13.1" fill="none" stroke="#000" stroke-width="1.6"/>
<text x="290" y="245.23" font-size="8" text-anchor="middle" fill="#151515">p65</text>
<clipPath id="cp10"><rect x="305.8" y="252.3" width="63" height="12"/></clipPath>
<rect x="305.8" y="252.3" width="63" height="12" fill="#e4e4e4"/>
<g clip-path="url(#cp10)">
<path d="M309.3,256 L321.2,256 Q324.88,258.3 321.2,260.6 L309.3,260.6 Q305.62,258.3 309.3,256 Z" fill="#464646" filter="url(#bb0_9)"/>
<path d="M330.3,256.3 L342.6,256.3 Q345.64,258.2 342.6,260.1 L330.3,260.1 Q327.26,258.2 330.3,256.3 Z" fill="#787878" filter="url(#bb0_9)"/>
<path d="M353.1,255.4 L364.4,255.4 Q368.56,258 364.4,260.6 L353.1,260.6 Q348.94,258 353.1,255.4 Z" fill="#161616" filter="url(#bb0_9)"/>
<rect x="305.8" y="252.3" width="63" height="12" filter="url(#noise)" opacity="0.16"/>
</g>
<rect x="305.8" y="252.3" width="63" height="12" fill="none" stroke="#000" stroke-width="1.6"/>
<text x="290" y="261.18" font-size="8" text-anchor="middle" fill="#151515">IκBα</text>
<clipPath id="cp11"><rect x="305.8" y="268" width="63" height="11.8"/></clipPath>
<rect x="305.8" y="268" width="63" height="11.8" fill="#dedede"/>
<g clip-path="url(#cp11)">
<path d="M309.75,271.75 L320.75,271.75 Q325.15,274.5 320.75,277.25 L309.75,277.25 Q305.35,274.5 309.75,271.75 Z" fill="#3c3c3c" filter="url(#bb0_9)"/>
<path d="M331.15,271.75 L342.25,271.75 Q346.65,274.5 342.25,277.25 L331.15,277.25 Q326.75,274.5 331.15,271.75 Z" fill="#414141" filter="url(#bb0_9)"/>
<path d="M354,270.3 L364,270.3 Q370.4,274.3 364,278.3 L354,278.3 Q347.6,274.3 354,270.3 Z" fill="#050505" filter="url(#bb0_9)"/>
<rect x="305.8" y="268" width="63" height="11.8" filter="url(#noise)" opacity="0.16"/>
</g>
<rect x="305.8" y="268" width="63" height="11.8" fill="none" stroke="#000" stroke-width="1.6"/>
<text x="290" y="276.78" font-size="8" text-anchor="middle" fill="#151515">p-IκBα</text>
<clipPath id="cp12"><rect x="305.8" y="283.8" width="63" height="12.7"/></clipPath>
<rect x="305.8" y="283.8" width="63" height="12.7" fill="#f2f2f2"/>
<g clip-path="url(#cp12)">
<path d="M308.5,289.5 L321.5,289.5 Q323.9,291 321.5,292.5 L308.5,292.5 Q306.1,291 308.5,289.5 Z" fill="#282828" filter="url(#bb0_9)"/>
<path d="M329.9,289.5 L343,289.5 Q345.4,291 343,292.5 L329.9,292.5 Q327.5,291 329.9,289.5 Z" fill="#2d2d2d" filter="url(#bb0_9)"/>
<path d="M352.4,288.9 L365.1,288.9 Q368.14,290.8 365.1,292.7 L352.4,292.7 Q349.36,290.8 352.4,288.9 Z" fill="#191919" filter="url(#bb0_9)"/>
<rect x="305.8" y="283.8" width="63" height="12.7" filter="url(#noise)" opacity="0.1"/>
</g>
<rect x="305.8" y="283.8" width="63" height="12.7" fill="none" stroke="#000" stroke-width="1.6"/>
<text x="290" y="293.03" font-size="8" text-anchor="middle" fill="#151515">TNF-α</text>
<clipPath id="cp13"><rect x="305.8" y="300.1" width="63" height="12.2"/></clipPath>
<rect x="305.8" y="300.1" width="63" height="12.2" fill="#e8e8e8"/>
<g clip-path="url(#cp13)">
<path d="M308.8,305.4 L321.2,305.4 Q324.08,307.2 321.2,309 L308.8,309 Q305.92,307.2 308.8,305.4 Z" fill="#a0a0a0" filter="url(#bb0_9)"/>
<path d="M330.1,305.5 L342.8,305.5 Q345.52,307.2 342.8,308.9 L330.1,308.9 Q327.38,307.2 330.1,305.5 Z" fill="#afafaf" filter="url(#bb0_9)"/>
<path d="M353.1,304.2 L364.4,304.2 Q368.56,306.8 364.4,309.4 L353.1,309.4 Q348.94,306.8 353.1,304.2 Z" fill="#191919" filter="url(#bb0_9)"/>
<rect x="305.8" y="300.1" width="63" height="12.2" filter="url(#noise)" opacity="0.16"/>
</g>
<rect x="305.8" y="300.1" width="63" height="12.2" fill="none" stroke="#000" stroke-width="1.6"/>
<text x="290" y="309.08" font-size="8" text-anchor="middle" fill="#151515">IL6</text>
<clipPath id="cp14"><rect x="305.8" y="315.7" width="63" height="13.5"/></clipPath>
<rect x="305.8" y="315.7" width="63" height="13.5" fill="#f4f4f4"/>
<g clip-path="url(#cp14)">
<path d="M308.3,320.8 L324.2,320.8 Q327.08,322.6 324.2,324.4 L308.3,324.4 Q305.42,322.6 308.3,320.8 Z" fill="#191919" filter="url(#bb0_9)"/>
<path d="M327.7,320.8 L345.3,320.8 Q348.02,322.5 345.3,324.2 L327.7,324.2 Q324.98,322.5 327.7,320.8 Z" fill="#1e1e1e" filter="url(#bb0_9)"/>
<path d="M348.8,320.7 L366.2,320.7 Q369.08,322.5 366.2,324.3 L348.8,324.3 Q345.92,322.5 348.8,320.7 Z" fill="#191919" filter="url(#bb0_9)"/>
<rect x="305.8" y="315.7" width="63" height="13.5" filter="url(#noise)" opacity="0.1"/>
</g>
<rect x="305.8" y="315.7" width="63" height="13.5" fill="none" stroke="#000" stroke-width="1.6"/>
<text x="290" y="325.33" font-size="8" text-anchor="middle" fill="#151515">β-actin</text>
<rect x="400.9" y="287.4" width="5.45" height="33.2" fill="#b70c30"/>
<line x1="403.55" y1="287.4" x2="403.55" y2="284.08" stroke="#1a1a1a" stroke-width="1.25"/>
<line x1="401.75" y1="284.08" x2="405.35" y2="284.08" stroke="#1a1a1a" stroke-width="1.25"/>
<rect x="406.2" y="287.4" width="5.45" height="33.2" fill="#2c4c8b"/>
<line x1="408.85" y1="287.4" x2="408.85" y2="285.74" stroke="#1a1a1a" stroke-width="1.25"/>
<line x1="407.05" y1="285.74" x2="410.65" y2="285.74" stroke="#1a1a1a" stroke-width="1.25"/>
<rect x="411.5" y="265.82" width="5.45" height="54.78" fill="#6db04b"/>
<line x1="414.15" y1="265.82" x2="414.15" y2="263.5" stroke="#1a1a1a" stroke-width="1.25"/>
<line x1="412.35" y1="263.5" x2="415.95" y2="263.5" stroke="#1a1a1a" stroke-width="1.25"/>
<circle cx="412.2" cy="258.2" r="1.3" fill="#151515"/>
<circle cx="416.1" cy="258.2" r="1.3" fill="#151515"/>
<rect x="419.7" y="287.4" width="5.45" height="33.2" fill="#b70c30"/>
<line x1="422.35" y1="287.4" x2="422.35" y2="284.41" stroke="#1a1a1a" stroke-width="1.25"/>
<line x1="420.55" y1="284.41" x2="424.15" y2="284.41" stroke="#1a1a1a" stroke-width="1.25"/>
<rect x="425" y="288.06" width="5.45" height="32.54" fill="#2c4c8b"/>
<line x1="427.65" y1="288.06" x2="427.65" y2="284.41" stroke="#1a1a1a" stroke-width="1.25"/>
<line x1="425.85" y1="284.41" x2="429.45" y2="284.41" stroke="#1a1a1a" stroke-width="1.25"/>
<rect x="430.3" y="271.46" width="5.45" height="49.14" fill="#6db04b"/>
<line x1="432.95" y1="271.46" x2="432.95" y2="268.81" stroke="#1a1a1a" stroke-width="1.25"/>
<line x1="431.15" y1="268.81" x2="434.75" y2="268.81" stroke="#1a1a1a" stroke-width="1.25"/>
<circle cx="432.95" cy="263.51" r="1.3" fill="#151515"/>
<rect x="438.5" y="287.4" width="5.45" height="33.2" fill="#b70c30"/>
<line x1="441.15" y1="287.4" x2="441.15" y2="280.76" stroke="#1a1a1a" stroke-width="1.25"/>
<line x1="439.35" y1="280.76" x2="442.95" y2="280.76" stroke="#1a1a1a" stroke-width="1.25"/>
<rect x="443.8" y="283.42" width="5.45" height="37.18" fill="#2c4c8b"/>
<line x1="446.45" y1="283.42" x2="446.45" y2="279.1" stroke="#1a1a1a" stroke-width="1.25"/>
<line x1="444.65" y1="279.1" x2="448.25" y2="279.1" stroke="#1a1a1a" stroke-width="1.25"/>
<rect x="449.1" y="249.22" width="5.45" height="71.38" fill="#6db04b"/>
<line x1="451.75" y1="249.22" x2="451.75" y2="240.26" stroke="#1a1a1a" stroke-width="1.25"/>
<line x1="449.95" y1="240.26" x2="453.55" y2="240.26" stroke="#1a1a1a" stroke-width="1.25"/>
<circle cx="451.75" cy="234.96" r="1.3" fill="#151515"/>
<rect x="457.3" y="287.4" width="5.45" height="33.2" fill="#b70c30"/>
<line x1="459.95" y1="287.4" x2="459.95" y2="283.08" stroke="#1a1a1a" stroke-width="1.25"/>
<line x1="458.15" y1="283.08" x2="461.75" y2="283.08" stroke="#1a1a1a" stroke-width="1.25"/>
<rect x="462.6" y="291.38" width="5.45" height="29.22" fill="#2c4c8b"/>
<line x1="465.25" y1="291.38" x2="465.25" y2="289.72" stroke="#1a1a1a" stroke-width="1.25"/>
<line x1="463.45" y1="289.72" x2="467.05" y2="289.72" stroke="#1a1a1a" stroke-width="1.25"/>
<rect x="467.9" y="256.52" width="5.45" height="64.08" fill="#6db04b"/>
<line x1="470.55" y1="256.52" x2="470.55" y2="250.22" stroke="#1a1a1a" stroke-width="1.25"/>
<line x1="468.75" y1="250.22" x2="472.35" y2="250.22" stroke="#1a1a1a" stroke-width="1.25"/>
<circle cx="468.6" cy="244.92" r="1.3" fill="#151515"/>
<circle cx="472.5" cy="244.92" r="1.3" fill="#151515"/>
<rect x="476.1" y="287.4" width="5.45" height="33.2" fill="#b70c30"/>
<line x1="478.75" y1="287.4" x2="478.75" y2="283.42" stroke="#1a1a1a" stroke-width="1.25"/>
<line x1="476.95" y1="283.42" x2="480.55" y2="283.42" stroke="#1a1a1a" stroke-width="1.25"/>
<rect x="481.4" y="290.06" width="5.45" height="30.54" fill="#2c4c8b"/>
<line x1="484.05" y1="290.06" x2="484.05" y2="287.4" stroke="#1a1a1a" stroke-width="1.25"/>
<line x1="482.25" y1="287.4" x2="485.85" y2="287.4" stroke="#1a1a1a" stroke-width="1.25"/>
<rect x="486.7" y="269.14" width="5.45" height="51.46" fill="#6db04b"/>
<line x1="489.35" y1="269.14" x2="489.35" y2="263.5" stroke="#1a1a1a" stroke-width="1.25"/>
<line x1="487.55" y1="263.5" x2="491.15" y2="263.5" stroke="#1a1a1a" stroke-width="1.25"/>
<circle cx="489.35" cy="258.2" r="1.3" fill="#151515"/>
<rect x="494.9" y="288.06" width="5.45" height="32.54" fill="#b70c30"/>
<line x1="497.55" y1="288.06" x2="497.55" y2="286.07" stroke="#1a1a1a" stroke-width="1.25"/>
<line x1="495.75" y1="286.07" x2="499.35" y2="286.07" stroke="#1a1a1a" stroke-width="1.25"/>
<rect x="500.2" y="285.74" width="5.45" height="34.86" fill="#2c4c8b"/>
<line x1="502.85" y1="285.74" x2="502.85" y2="280.1" stroke="#1a1a1a" stroke-width="1.25"/>
<line x1="501.05" y1="280.1" x2="504.65" y2="280.1" stroke="#1a1a1a" stroke-width="1.25"/>
<rect x="505.5" y="257.52" width="5.45" height="63.08" fill="#6db04b"/>
<line x1="508.15" y1="257.52" x2="508.15" y2="256.86" stroke="#1a1a1a" stroke-width="1.25"/>
<line x1="506.35" y1="256.86" x2="509.95" y2="256.86" stroke="#1a1a1a" stroke-width="1.25"/>
<circle cx="506.2" cy="251.56" r="1.3" fill="#151515"/>
<circle cx="510.1" cy="251.56" r="1.3" fill="#151515"/>
<line x1="398.8" y1="220" x2="398.8" y2="321.25" stroke="#1a1a1a" stroke-width="1.3"/>
<line x1="398.15" y1="320.6" x2="512.3" y2="320.6" stroke="#1a1a1a" stroke-width="1.3"/>
<line x1="395.8" y1="320.6" x2="398.8" y2="320.6" stroke="#1a1a1a" stroke-width="1.3"/>
<text x="393" y="323.41" font-size="7.8" text-anchor="end" fill="#151515">0</text>
<line x1="395.8" y1="287.4" x2="398.8" y2="287.4" stroke="#1a1a1a" stroke-width="1.3"/>
<text x="393" y="290.21" font-size="7.8" text-anchor="end" fill="#151515">1</text>
<line x1="395.8" y1="254.2" x2="398.8" y2="254.2" stroke="#1a1a1a" stroke-width="1.3"/>
<text x="393" y="257.01" font-size="7.8" text-anchor="end" fill="#151515">2</text>
<line x1="395.8" y1="221" x2="398.8" y2="221" stroke="#1a1a1a" stroke-width="1.3"/>
<text x="393" y="223.81" font-size="7.8" text-anchor="end" fill="#151515">3</text>
<line x1="408.85" y1="320.6" x2="408.85" y2="323.6" stroke="#1a1a1a" stroke-width="1.3"/>
<line x1="427.65" y1="320.6" x2="427.65" y2="323.6" stroke="#1a1a1a" stroke-width="1.3"/>
<line x1="446.45" y1="320.6" x2="446.45" y2="323.6" stroke="#1a1a1a" stroke-width="1.3"/>
<line x1="465.25" y1="320.6" x2="465.25" y2="323.6" stroke="#1a1a1a" stroke-width="1.3"/>
<line x1="484.05" y1="320.6" x2="484.05" y2="323.6" stroke="#1a1a1a" stroke-width="1.3"/>
<line x1="502.85" y1="320.6" x2="502.85" y2="323.6" stroke="#1a1a1a" stroke-width="1.3"/>
<text x="411.4" y="327" font-size="7.3" text-anchor="end" fill="#151515" transform="rotate(-90 411.4 327)">CCL2</text>
<text x="430.2" y="327" font-size="7.3" text-anchor="end" fill="#151515" transform="rotate(-90 430.2 327)">p65</text>
<text x="449" y="327" font-size="7.3" text-anchor="end" fill="#151515" transform="rotate(-90 449 327)">IκBα</text>
<text x="467.81" y="327" font-size="7.3" text-anchor="end" fill="#151515" transform="rotate(-90 467.81 327)">p-IκBα</text>
<text x="486.61" y="327" font-size="7.3" text-anchor="end" fill="#151515" transform="rotate(-90 486.61 327)">TNF-α</text>
<text x="505.4" y="327" font-size="7.3" text-anchor="end" fill="#151515" transform="rotate(-90 505.4 327)">IL6</text>
<text x="383" y="270" font-size="8.7" text-anchor="middle" fill="#151515" transform="rotate(-90 383 270)">Protein fold, vs cont.</text>
<rect x="401.9" y="203.1" width="12" height="6.3" fill="#b70c30"/>
<text x="416.8" y="209" font-size="7.4" text-anchor="start" fill="#151515">Cont.</text>
<rect x="441.2" y="203.1" width="11.5" height="6.3" fill="#2c4c8b"/>
<text x="455.3" y="203.3" font-size="7.2" text-anchor="start" fill="#151515">Apo-</text>
<text x="462.3" y="213.2" font-size="7.2" text-anchor="middle" fill="#151515">Tf</text>
<rect x="477.8" y="203.1" width="10.8" height="6.3" fill="#6db04b"/>
<text x="491.3" y="203.3" font-size="7.2" text-anchor="start" fill="#151515">Holo-</text>
<text x="500.8" y="213.2" font-size="7.2" text-anchor="middle" fill="#151515">Tf</text>
<text x="7.5" y="375.3" font-size="12" text-anchor="start" font-weight="bold" fill="#000">E</text>
<rect x="40.4" y="478.15" width="6.87" height="22.35" fill="#8a83c3"/>
<line x1="43.76" y1="478.15" x2="43.76" y2="473.68" stroke="#1a1a1a" stroke-width="1.25"/>
<line x1="41.66" y1="473.68" x2="45.86" y2="473.68" stroke="#1a1a1a" stroke-width="1.25"/>
<rect x="47.12" y="464.07" width="6.87" height="36.43" fill="#2c4c8b"/>
<line x1="50.48" y1="464.07" x2="50.48" y2="462.06" stroke="#1a1a1a" stroke-width="1.25"/>
<line x1="48.38" y1="462.06" x2="52.58" y2="462.06" stroke="#1a1a1a" stroke-width="1.25"/>
<circle cx="50.48" cy="456.66" r="1.3" fill="#151515"/>
<rect x="53.84" y="449.32" width="6.87" height="51.18" fill="#f3b919"/>
<line x1="57.2" y1="449.32" x2="57.2" y2="444.62" stroke="#1a1a1a" stroke-width="1.25"/>
<line x1="55.1" y1="444.62" x2="59.3" y2="444.62" stroke="#1a1a1a" stroke-width="1.25"/>
<circle cx="57.2" cy="439.23" r="1.3" fill="#151515"/>
<rect x="60.56" y="448.42" width="6.87" height="52.08" fill="#b70c30"/>
<line x1="63.92" y1="448.42" x2="63.92" y2="445.97" stroke="#1a1a1a" stroke-width="1.25"/>
<line x1="61.82" y1="445.97" x2="66.02" y2="445.97" stroke="#1a1a1a" stroke-width="1.25"/>
<circle cx="61.97" cy="440.57" r="1.3" fill="#151515"/>
<circle cx="65.87" cy="440.57" r="1.3" fill="#151515"/>
<rect x="72.67" y="477.7" width="6.87" height="22.8" fill="#8a83c3"/>
<line x1="76.03" y1="477.7" x2="76.03" y2="476.36" stroke="#1a1a1a" stroke-width="1.25"/>
<line x1="73.93" y1="476.36" x2="78.13" y2="476.36" stroke="#1a1a1a" stroke-width="1.25"/>
<rect x="79.39" y="485.75" width="6.87" height="14.75" fill="#2c4c8b"/>
<line x1="82.75" y1="485.75" x2="82.75" y2="485.3" stroke="#1a1a1a" stroke-width="1.25"/>
<line x1="80.65" y1="485.3" x2="84.85" y2="485.3" stroke="#1a1a1a" stroke-width="1.25"/>
<circle cx="82.75" cy="479.9" r="1.3" fill="#151515"/>
<rect x="86.11" y="486.2" width="6.87" height="14.3" fill="#f3b919"/>
<line x1="89.47" y1="486.2" x2="89.47" y2="485.53" stroke="#1a1a1a" stroke-width="1.25"/>
<line x1="87.37" y1="485.53" x2="91.57" y2="485.53" stroke="#1a1a1a" stroke-width="1.25"/>
<circle cx="89.47" cy="480.13" r="1.3" fill="#151515"/>
<rect x="92.83" y="490.89" width="6.87" height="9.61" fill="#b70c30"/>
<line x1="96.19" y1="490.89" x2="96.19" y2="490.22" stroke="#1a1a1a" stroke-width="1.25"/>
<line x1="94.09" y1="490.22" x2="98.29" y2="490.22" stroke="#1a1a1a" stroke-width="1.25"/>
<circle cx="94.24" cy="484.82" r="1.3" fill="#151515"/>
<circle cx="98.14" cy="484.82" r="1.3" fill="#151515"/>
<rect x="104.94" y="478.15" width="6.87" height="22.35" fill="#8a83c3"/>
<line x1="108.3" y1="478.15" x2="108.3" y2="473.68" stroke="#1a1a1a" stroke-width="1.25"/>
<line x1="106.2" y1="473.68" x2="110.4" y2="473.68" stroke="#1a1a1a" stroke-width="1.25"/>
<rect x="111.66" y="461.39" width="6.87" height="39.11" fill="#2c4c8b"/>
<line x1="115.02" y1="461.39" x2="115.02" y2="457.59" stroke="#1a1a1a" stroke-width="1.25"/>
<line x1="112.92" y1="457.59" x2="117.12" y2="457.59" stroke="#1a1a1a" stroke-width="1.25"/>
<circle cx="115.02" cy="452.19" r="1.3" fill="#151515"/>
<rect x="118.38" y="413.33" width="6.87" height="87.17" fill="#f3b919"/>
<line x1="121.74" y1="413.33" x2="121.74" y2="406.63" stroke="#1a1a1a" stroke-width="1.25"/>
<line x1="119.64" y1="406.63" x2="123.84" y2="406.63" stroke="#1a1a1a" stroke-width="1.25"/>
<circle cx="119.79" cy="401.23" r="1.3" fill="#151515"/>
<circle cx="123.69" cy="401.23" r="1.3" fill="#151515"/>
<rect x="125.1" y="436.36" width="6.87" height="64.14" fill="#b70c30"/>
<line x1="128.46" y1="436.36" x2="128.46" y2="426.75" stroke="#1a1a1a" stroke-width="1.25"/>
<line x1="126.36" y1="426.75" x2="130.56" y2="426.75" stroke="#1a1a1a" stroke-width="1.25"/>
<circle cx="128.46" cy="421.35" r="1.3" fill="#151515"/>
<rect x="137.21" y="476.59" width="6.87" height="23.91" fill="#8a83c3"/>
<line x1="140.57" y1="476.59" x2="140.57" y2="476.14" stroke="#1a1a1a" stroke-width="1.25"/>
<line x1="138.47" y1="476.14" x2="142.67" y2="476.14" stroke="#1a1a1a" stroke-width="1.25"/>
<rect x="143.93" y="481.5" width="6.87" height="19" fill="#2c4c8b"/>
<line x1="147.29" y1="481.5" x2="147.29" y2="481.06" stroke="#1a1a1a" stroke-width="1.25"/>
<line x1="145.19" y1="481.06" x2="149.39" y2="481.06" stroke="#1a1a1a" stroke-width="1.25"/>
<circle cx="147.29" cy="475.66" r="1.3" fill="#151515"/>
<rect x="150.65" y="483.07" width="6.87" height="17.43" fill="#f3b919"/>
<line x1="154.01" y1="483.07" x2="154.01" y2="482.4" stroke="#1a1a1a" stroke-width="1.25"/>
<line x1="151.91" y1="482.4" x2="156.11" y2="482.4" stroke="#1a1a1a" stroke-width="1.25"/>
<circle cx="154.01" cy="477" r="1.3" fill="#151515"/>
<rect x="157.37" y="483.51" width="6.87" height="16.99" fill="#b70c30"/>
<line x1="160.73" y1="483.51" x2="160.73" y2="483.07" stroke="#1a1a1a" stroke-width="1.25"/>
<line x1="158.63" y1="483.07" x2="162.83" y2="483.07" stroke="#1a1a1a" stroke-width="1.25"/>
<circle cx="160.73" cy="477.67" r="1.3" fill="#151515"/>
<rect x="169.48" y="478.15" width="6.87" height="22.35" fill="#8a83c3"/>
<line x1="172.84" y1="478.15" x2="172.84" y2="473.68" stroke="#1a1a1a" stroke-width="1.25"/>
<line x1="170.74" y1="473.68" x2="174.94" y2="473.68" stroke="#1a1a1a" stroke-width="1.25"/>
<rect x="176.2" y="495.02" width="6.87" height="5.48" fill="#2c4c8b"/>
<line x1="179.56" y1="495.02" x2="179.56" y2="494.47" stroke="#1a1a1a" stroke-width="1.25"/>
<line x1="177.46" y1="494.47" x2="181.66" y2="494.47" stroke="#1a1a1a" stroke-width="1.25"/>
<circle cx="179.56" cy="489.07" r="1.3" fill="#151515"/>
<rect x="182.92" y="495.58" width="6.87" height="4.92" fill="#f3b919"/>
<line x1="186.28" y1="495.58" x2="186.28" y2="494.91" stroke="#1a1a1a" stroke-width="1.25"/>
<line x1="184.18" y1="494.91" x2="188.38" y2="494.91" stroke="#1a1a1a" stroke-width="1.25"/>
<circle cx="186.28" cy="489.51" r="1.3" fill="#151515"/>
<rect x="189.64" y="495.02" width="6.87" height="5.48" fill="#b70c30"/>
<line x1="193" y1="495.02" x2="193" y2="494.24" stroke="#1a1a1a" stroke-width="1.25"/>
<line x1="190.9" y1="494.24" x2="195.1" y2="494.24" stroke="#1a1a1a" stroke-width="1.25"/>
<circle cx="193" cy="488.84" r="1.3" fill="#151515"/>
<rect x="201.75" y="478.15" width="6.87" height="22.35" fill="#8a83c3"/>
<line x1="205.11" y1="478.15" x2="205.11" y2="471.22" stroke="#1a1a1a" stroke-width="1.25"/>
<line x1="203.01" y1="471.22" x2="207.21" y2="471.22" stroke="#1a1a1a" stroke-width="1.25"/>
<rect x="208.47" y="449.1" width="6.87" height="51.4" fill="#2c4c8b"/>
<line x1="211.83" y1="449.1" x2="211.83" y2="448.2" stroke="#1a1a1a" stroke-width="1.25"/>
<line x1="209.73" y1="448.2" x2="213.93" y2="448.2" stroke="#1a1a1a" stroke-width="1.25"/>
<circle cx="211.83" cy="442.8" r="1.3" fill="#151515"/>
<rect x="215.19" y="443.95" width="6.87" height="56.55" fill="#f3b919"/>
<line x1="218.55" y1="443.95" x2="218.55" y2="441.94" stroke="#1a1a1a" stroke-width="1.25"/>
<line x1="216.45" y1="441.94" x2="220.65" y2="441.94" stroke="#1a1a1a" stroke-width="1.25"/>
<circle cx="218.55" cy="436.54" r="1.3" fill="#151515"/>
<rect x="221.91" y="437.92" width="6.87" height="62.58" fill="#b70c30"/>
<line x1="225.27" y1="437.92" x2="225.27" y2="437.25" stroke="#1a1a1a" stroke-width="1.25"/>
<line x1="223.17" y1="437.25" x2="227.37" y2="437.25" stroke="#1a1a1a" stroke-width="1.25"/>
<circle cx="223.32" cy="431.85" r="1.3" fill="#151515"/>
<circle cx="227.22" cy="431.85" r="1.3" fill="#151515"/>
<rect x="234.02" y="478.15" width="6.87" height="22.35" fill="#8a83c3"/>
<line x1="237.38" y1="478.15" x2="237.38" y2="475.92" stroke="#1a1a1a" stroke-width="1.25"/>
<line x1="235.28" y1="475.92" x2="239.48" y2="475.92" stroke="#1a1a1a" stroke-width="1.25"/>
<rect x="240.74" y="446.41" width="6.87" height="54.09" fill="#2c4c8b"/>
<line x1="244.1" y1="446.41" x2="244.1" y2="435.91" stroke="#1a1a1a" stroke-width="1.25"/>
<line x1="242" y1="435.91" x2="246.2" y2="435.91" stroke="#1a1a1a" stroke-width="1.25"/>
<circle cx="244.1" cy="430.51" r="1.3" fill="#151515"/>
<rect x="247.46" y="445.52" width="6.87" height="54.98" fill="#f3b919"/>
<line x1="250.82" y1="445.52" x2="250.82" y2="441.5" stroke="#1a1a1a" stroke-width="1.25"/>
<line x1="248.72" y1="441.5" x2="252.92" y2="441.5" stroke="#1a1a1a" stroke-width="1.25"/>
<circle cx="248.87" cy="436.1" r="1.3" fill="#151515"/>
<circle cx="252.77" cy="436.1" r="1.3" fill="#151515"/>
<rect x="254.18" y="446.64" width="6.87" height="53.86" fill="#b70c30"/>
<line x1="257.54" y1="446.64" x2="257.54" y2="436.36" stroke="#1a1a1a" stroke-width="1.25"/>
<line x1="255.44" y1="436.36" x2="259.64" y2="436.36" stroke="#1a1a1a" stroke-width="1.25"/>
<circle cx="257.54" cy="430.96" r="1.3" fill="#151515"/>
<rect x="266.29" y="477.93" width="6.87" height="22.57" fill="#8a83c3"/>
<line x1="269.65" y1="477.93" x2="269.65" y2="476.36" stroke="#1a1a1a" stroke-width="1.25"/>
<line x1="267.55" y1="476.36" x2="271.75" y2="476.36" stroke="#1a1a1a" stroke-width="1.25"/>
<rect x="273.01" y="451.33" width="6.87" height="49.17" fill="#2c4c8b"/>
<line x1="276.37" y1="451.33" x2="276.37" y2="446.86" stroke="#1a1a1a" stroke-width="1.25"/>
<line x1="274.27" y1="446.86" x2="278.47" y2="446.86" stroke="#1a1a1a" stroke-width="1.25"/>
<circle cx="274.42" cy="441.46" r="1.3" fill="#151515"/>
<circle cx="278.32" cy="441.46" r="1.3" fill="#151515"/>
<rect x="279.73" y="428.53" width="6.87" height="71.97" fill="#f3b919"/>
<line x1="283.09" y1="428.53" x2="283.09" y2="419.59" stroke="#1a1a1a" stroke-width="1.25"/>
<line x1="280.99" y1="419.59" x2="285.19" y2="419.59" stroke="#1a1a1a" stroke-width="1.25"/>
<circle cx="281.14" cy="414.19" r="1.3" fill="#151515"/>
<circle cx="285.04" cy="414.19" r="1.3" fill="#151515"/>
<rect x="286.45" y="437.25" width="6.87" height="63.25" fill="#b70c30"/>
<line x1="289.81" y1="437.25" x2="289.81" y2="432.78" stroke="#1a1a1a" stroke-width="1.25"/>
<line x1="287.71" y1="432.78" x2="291.91" y2="432.78" stroke="#1a1a1a" stroke-width="1.25"/>
<circle cx="287.86" cy="427.38" r="1.3" fill="#151515"/>
<circle cx="291.76" cy="427.38" r="1.3" fill="#151515"/>
<rect x="298.56" y="478.15" width="6.87" height="22.35" fill="#8a83c3"/>
<line x1="301.92" y1="478.15" x2="301.92" y2="475.47" stroke="#1a1a1a" stroke-width="1.25"/>
<line x1="299.82" y1="475.47" x2="304.02" y2="475.47" stroke="#1a1a1a" stroke-width="1.25"/>
<rect x="305.28" y="452.67" width="6.87" height="47.83" fill="#2c4c8b"/>
<line x1="308.64" y1="452.67" x2="308.64" y2="450.21" stroke="#1a1a1a" stroke-width="1.25"/>
<line x1="306.54" y1="450.21" x2="310.74" y2="450.21" stroke="#1a1a1a" stroke-width="1.25"/>
<circle cx="306.69" cy="444.81" r="1.3" fill="#151515"/>
<circle cx="310.59" cy="444.81" r="1.3" fill="#151515"/>
<rect x="312" y="452.67" width="6.87" height="47.83" fill="#f3b919"/>
<line x1="315.36" y1="452.67" x2="315.36" y2="449.54" stroke="#1a1a1a" stroke-width="1.25"/>
<line x1="313.26" y1="449.54" x2="317.46" y2="449.54" stroke="#1a1a1a" stroke-width="1.25"/>
<circle cx="315.36" cy="444.14" r="1.3" fill="#151515"/>
<rect x="318.72" y="451.78" width="6.87" height="48.72" fill="#b70c30"/>
<line x1="322.08" y1="451.78" x2="322.08" y2="447.98" stroke="#1a1a1a" stroke-width="1.25"/>
<line x1="319.98" y1="447.98" x2="324.18" y2="447.98" stroke="#1a1a1a" stroke-width="1.25"/>
<circle cx="322.08" cy="442.58" r="1.3" fill="#151515"/>
<rect x="330.83" y="478.15" width="6.87" height="22.35" fill="#8a83c3"/>
<line x1="334.19" y1="478.15" x2="334.19" y2="475.47" stroke="#1a1a1a" stroke-width="1.25"/>
<line x1="332.09" y1="475.47" x2="336.29" y2="475.47" stroke="#1a1a1a" stroke-width="1.25"/>
<rect x="337.55" y="453.56" width="6.87" height="46.94" fill="#2c4c8b"/>
<line x1="340.91" y1="453.56" x2="340.91" y2="447.08" stroke="#1a1a1a" stroke-width="1.25"/>
<line x1="338.81" y1="447.08" x2="343.01" y2="447.08" stroke="#1a1a1a" stroke-width="1.25"/>
<circle cx="340.91" cy="441.68" r="1.3" fill="#151515"/>
<rect x="344.27" y="428.31" width="6.87" height="72.19" fill="#f3b919"/>
<line x1="347.63" y1="428.31" x2="347.63" y2="419.15" stroke="#1a1a1a" stroke-width="1.25"/>
<line x1="345.53" y1="419.15" x2="349.73" y2="419.15" stroke="#1a1a1a" stroke-width="1.25"/>
<circle cx="345.68" cy="413.75" r="1.3" fill="#151515"/>
<circle cx="349.58" cy="413.75" r="1.3" fill="#151515"/>
<rect x="350.99" y="420.93" width="6.87" height="79.57" fill="#b70c30"/>
<line x1="354.35" y1="420.93" x2="354.35" y2="407.3" stroke="#1a1a1a" stroke-width="1.25"/>
<line x1="352.25" y1="407.3" x2="356.45" y2="407.3" stroke="#1a1a1a" stroke-width="1.25"/>
<circle cx="354.35" cy="401.9" r="1.3" fill="#151515"/>
<line x1="37.7" y1="387.5" x2="37.7" y2="501.15" stroke="#1a1a1a" stroke-width="1.3"/>
<line x1="37.05" y1="500.5" x2="361" y2="500.5" stroke="#1a1a1a" stroke-width="1.3"/>
<line x1="34.7" y1="500.5" x2="37.7" y2="500.5" stroke="#1a1a1a" stroke-width="1.3"/>
<text x="31.9" y="503.31" font-size="7.8" text-anchor="end" fill="#151515">0</text>
<line x1="34.7" y1="478.15" x2="37.7" y2="478.15" stroke="#1a1a1a" stroke-width="1.3"/>
<text x="31.9" y="480.96" font-size="7.8" text-anchor="end" fill="#151515">1</text>
<line x1="34.7" y1="455.8" x2="37.7" y2="455.8" stroke="#1a1a1a" stroke-width="1.3"/>
<text x="31.9" y="458.61" font-size="7.8" text-anchor="end" fill="#151515">2</text>
<line x1="34.7" y1="433.45" x2="37.7" y2="433.45" stroke="#1a1a1a" stroke-width="1.3"/>
<text x="31.9" y="436.26" font-size="7.8" text-anchor="end" fill="#151515">3</text>
<line x1="34.7" y1="411.1" x2="37.7" y2="411.1" stroke="#1a1a1a" stroke-width="1.3"/>
<text x="31.9" y="413.91" font-size="7.8" text-anchor="end" fill="#151515">4</text>
<line x1="34.7" y1="388.75" x2="37.7" y2="388.75" stroke="#1a1a1a" stroke-width="1.3"/>
<text x="31.9" y="391.56" font-size="7.8" text-anchor="end" fill="#151515">5</text>
<line x1="53.84" y1="500.5" x2="53.84" y2="503" stroke="#1a1a1a" stroke-width="1.3"/>
<line x1="86.11" y1="500.5" x2="86.11" y2="503" stroke="#1a1a1a" stroke-width="1.3"/>
<line x1="118.38" y1="500.5" x2="118.38" y2="503" stroke="#1a1a1a" stroke-width="1.3"/>
<line x1="150.65" y1="500.5" x2="150.65" y2="503" stroke="#1a1a1a" stroke-width="1.3"/>
<line x1="182.92" y1="500.5" x2="182.92" y2="503" stroke="#1a1a1a" stroke-width="1.3"/>
<line x1="215.19" y1="500.5" x2="215.19" y2="503" stroke="#1a1a1a" stroke-width="1.3"/>
<line x1="247.46" y1="500.5" x2="247.46" y2="503" stroke="#1a1a1a" stroke-width="1.3"/>
<line x1="279.73" y1="500.5" x2="279.73" y2="503" stroke="#1a1a1a" stroke-width="1.3"/>
<line x1="312" y1="500.5" x2="312" y2="503" stroke="#1a1a1a" stroke-width="1.3"/>
<line x1="344.27" y1="500.5" x2="344.27" y2="503" stroke="#1a1a1a" stroke-width="1.3"/>
<text x="53.84" y="513.5" font-size="7.8" text-anchor="middle" fill="#151515">HAMP</text>
<text x="86.11" y="513.5" font-size="7.8" text-anchor="middle" fill="#151515">TFRC</text>
<text x="118.38" y="513.5" font-size="7.8" text-anchor="middle" fill="#151515">FTL1</text>
<text x="150.65" y="513.5" font-size="7.8" text-anchor="middle" fill="#151515">miR-122</text>
<text x="182.92" y="513.5" font-size="7.8" text-anchor="middle" fill="#151515">HNF4α</text>
<text x="215.19" y="513.5" font-size="7.8" text-anchor="middle" fill="#151515">CCL2</text>
<text x="247.46" y="513.5" font-size="7.8" text-anchor="middle" fill="#151515">p65</text>
<text x="279.73" y="513.5" font-size="7.8" text-anchor="middle" fill="#151515">TNF-α</text>
<text x="312" y="513.5" font-size="7.8" text-anchor="middle" fill="#151515">IL6</text>
<text x="344.27" y="513.5" font-size="7.8" text-anchor="middle" fill="#151515">IL1β</text>
<text x="22.3" y="440.5" font-size="9" text-anchor="middle" fill="#151515" transform="rotate(-90 22.3 440.5)">RNA, Holo-Tf vs Apo-Tf</text>
<rect x="89" y="375.4" width="13.2" height="6" fill="#8a83c3"/>
<text x="104.2" y="380.9" font-size="7.6" text-anchor="start" fill="#151515">Apo</text>
<rect x="124.6" y="375.4" width="13" height="6" fill="#2c4c8b"/>
<text x="140.2" y="380.9" font-size="7.3" text-anchor="start" fill="#151515">Holo (15 μM)</text>
<rect x="188.9" y="375.4" width="12.9" height="6" fill="#f3b919"/>
<text x="204" y="380.9" font-size="7.3" text-anchor="start" fill="#151515">Holo (30 μM)</text>
<rect x="253.3" y="375.4" width="12.5" height="6" fill="#b70c30"/>
<text x="268" y="380.9" font-size="7.3" text-anchor="start" fill="#151515">Holo (60 μM)</text>
<text x="7.5" y="541.6" font-size="12" text-anchor="start" font-weight="bold" fill="#000">F</text>
<rect x="150.8" y="631.4" width="9.75" height="36.2" fill="#8a83c3"/>
<line x1="155.6" y1="631.4" x2="155.6" y2="630.31" stroke="#1a1a1a" stroke-width="1.25"/>
<line x1="152.85" y1="630.31" x2="158.35" y2="630.31" stroke="#1a1a1a" stroke-width="1.25"/>
<rect x="160.4" y="648.05" width="9.75" height="19.55" fill="#f3b919"/>
<line x1="165.2" y1="648.05" x2="165.2" y2="645.88" stroke="#1a1a1a" stroke-width="1.25"/>
<line x1="162.45" y1="645.88" x2="167.95" y2="645.88" stroke="#1a1a1a" stroke-width="1.25"/>
<circle cx="163.25" cy="640.48" r="1.3" fill="#151515"/>
<circle cx="167.15" cy="640.48" r="1.3" fill="#151515"/>
<rect x="177.65" y="631.4" width="9.75" height="36.2" fill="#8a83c3"/>
<line x1="182.45" y1="631.4" x2="182.45" y2="628.87" stroke="#1a1a1a" stroke-width="1.25"/>
<line x1="179.7" y1="628.87" x2="185.2" y2="628.87" stroke="#1a1a1a" stroke-width="1.25"/>
<rect x="187.25" y="606.78" width="9.75" height="60.82" fill="#f3b919"/>
<line x1="192.05" y1="606.78" x2="192.05" y2="602.44" stroke="#1a1a1a" stroke-width="1.25"/>
<line x1="189.3" y1="602.44" x2="194.8" y2="602.44" stroke="#1a1a1a" stroke-width="1.25"/>
<circle cx="192.05" cy="597.04" r="1.3" fill="#151515"/>
<rect x="204.5" y="631.4" width="9.75" height="36.2" fill="#8a83c3"/>
<line x1="209.3" y1="631.4" x2="209.3" y2="628.14" stroke="#1a1a1a" stroke-width="1.25"/>
<line x1="206.55" y1="628.14" x2="212.05" y2="628.14" stroke="#1a1a1a" stroke-width="1.25"/>
<rect x="214.1" y="610.04" width="9.75" height="57.56" fill="#f3b919"/>
<line x1="218.9" y1="610.04" x2="218.9" y2="604.61" stroke="#1a1a1a" stroke-width="1.25"/>
<line x1="216.15" y1="604.61" x2="221.65" y2="604.61" stroke="#1a1a1a" stroke-width="1.25"/>
<circle cx="218.9" cy="599.21" r="1.3" fill="#151515"/>
<rect x="231.35" y="631.4" width="9.75" height="36.2" fill="#8a83c3"/>
<line x1="236.15" y1="631.4" x2="236.15" y2="630.68" stroke="#1a1a1a" stroke-width="1.25"/>
<line x1="233.4" y1="630.68" x2="238.9" y2="630.68" stroke="#1a1a1a" stroke-width="1.25"/>
<rect x="240.95" y="582.89" width="9.75" height="84.71" fill="#f3b919"/>
<line x1="245.75" y1="582.89" x2="245.75" y2="568.77" stroke="#1a1a1a" stroke-width="1.25"/>
<line x1="243" y1="568.77" x2="248.5" y2="568.77" stroke="#1a1a1a" stroke-width="1.25"/>
<circle cx="245.75" cy="563.37" r="1.3" fill="#151515"/>
<rect x="258.2" y="631.4" width="9.75" height="36.2" fill="#8a83c3"/>
<line x1="263" y1="631.4" x2="263" y2="628.5" stroke="#1a1a1a" stroke-width="1.25"/>
<line x1="260.25" y1="628.5" x2="265.75" y2="628.5" stroke="#1a1a1a" stroke-width="1.25"/>
<rect x="267.8" y="585.79" width="9.75" height="81.81" fill="#f3b919"/>
<line x1="272.6" y1="585.79" x2="272.6" y2="578.19" stroke="#1a1a1a" stroke-width="1.25"/>
<line x1="269.85" y1="578.19" x2="275.35" y2="578.19" stroke="#1a1a1a" stroke-width="1.25"/>
<circle cx="270.65" cy="572.79" r="1.3" fill="#151515"/>
<circle cx="274.55" cy="572.79" r="1.3" fill="#151515"/>
<rect x="285.05" y="631.4" width="9.75" height="36.2" fill="#8a83c3"/>
<line x1="289.85" y1="631.4" x2="289.85" y2="630.68" stroke="#1a1a1a" stroke-width="1.25"/>
<line x1="287.1" y1="630.68" x2="292.6" y2="630.68" stroke="#1a1a1a" stroke-width="1.25"/>
<rect x="294.65" y="600.63" width="9.75" height="66.97" fill="#f3b919"/>
<line x1="299.45" y1="600.63" x2="299.45" y2="595.56" stroke="#1a1a1a" stroke-width="1.25"/>
<line x1="296.7" y1="595.56" x2="302.2" y2="595.56" stroke="#1a1a1a" stroke-width="1.25"/>
<circle cx="297.5" cy="590.16" r="1.3" fill="#151515"/>
<circle cx="301.4" cy="590.16" r="1.3" fill="#151515"/>
<line x1="145.5" y1="557.5" x2="145.5" y2="668.25" stroke="#1a1a1a" stroke-width="1.3"/>
<line x1="144.85" y1="667.6" x2="308" y2="667.6" stroke="#1a1a1a" stroke-width="1.3"/>
<line x1="142.5" y1="667.6" x2="145.5" y2="667.6" stroke="#1a1a1a" stroke-width="1.3"/>
<text x="139.7" y="670.41" font-size="7.8" text-anchor="end" fill="#151515">0</text>
<line x1="142.5" y1="631.4" x2="145.5" y2="631.4" stroke="#1a1a1a" stroke-width="1.3"/>
<text x="139.7" y="634.21" font-size="7.8" text-anchor="end" fill="#151515">1</text>
<line x1="142.5" y1="595.2" x2="145.5" y2="595.2" stroke="#1a1a1a" stroke-width="1.3"/>
<text x="139.7" y="598.01" font-size="7.8" text-anchor="end" fill="#151515">2</text>
<line x1="142.5" y1="559" x2="145.5" y2="559" stroke="#1a1a1a" stroke-width="1.3"/>
<text x="139.7" y="561.81" font-size="7.8" text-anchor="end" fill="#151515">3</text>
<line x1="160.4" y1="667.6" x2="160.4" y2="670.1" stroke="#1a1a1a" stroke-width="1.3"/>
<line x1="187.25" y1="667.6" x2="187.25" y2="670.1" stroke="#1a1a1a" stroke-width="1.3"/>
<line x1="214.1" y1="667.6" x2="214.1" y2="670.1" stroke="#1a1a1a" stroke-width="1.3"/>
<line x1="240.95" y1="667.6" x2="240.95" y2="670.1" stroke="#1a1a1a" stroke-width="1.3"/>
<line x1="267.8" y1="667.6" x2="267.8" y2="670.1" stroke="#1a1a1a" stroke-width="1.3"/>
<line x1="294.65" y1="667.6" x2="294.65" y2="670.1" stroke="#1a1a1a" stroke-width="1.3"/>
<text x="160.4" y="680.5" font-size="7.8" text-anchor="middle" fill="#151515">HNF4α</text>
<text x="187.25" y="680.5" font-size="7.8" text-anchor="middle" fill="#151515">CCL2</text>
<text x="214.1" y="680.5" font-size="7.8" text-anchor="middle" fill="#151515">p65</text>
<text x="240.95" y="680.5" font-size="7.8" text-anchor="middle" fill="#151515">p-p65</text>
<text x="267.8" y="680.5" font-size="7.8" text-anchor="middle" fill="#151515">TNF-α</text>
<text x="294.65" y="680.5" font-size="7.8" text-anchor="middle" fill="#151515">IL6</text>
<text x="119.4" y="611.5" font-size="8.7" text-anchor="middle" fill="#151515" transform="rotate(-90 119.4 611.5)">Protein, Holo-Tf vs</text>
<text x="130.6" y="612.3" font-size="8.7" text-anchor="middle" fill="#151515" transform="rotate(-90 130.6 612.3)">Apo-Tf</text>
<rect x="181.4" y="550.2" width="11.6" height="6.5" fill="#8a83c3"/>
<text x="196.5" y="556.5" font-size="7.3" text-anchor="start" fill="#151515">Apo</text>
<rect x="218" y="550.2" width="11.5" height="6.5" fill="#f3b919"/>
<text x="232" y="556.5" font-size="7.3" text-anchor="start" fill="#151515">Holo (30 μM)</text>
<clipPath id="cp15"><rect x="43.6" y="543" width="60" height="15.8"/></clipPath>
<linearGradient id="lg15" x1="0" x2="1" y1="0" y2="0"><stop offset="0" stop-color="#878787"/><stop offset="0.4" stop-color="#969696"/><stop offset="0.5" stop-color="#c8c8c8"/><stop offset="0.58" stop-color="#c0c0c0"/><stop offset="1" stop-color="#bcbcbc"/></linearGradient>
<rect x="43.6" y="543" width="60" height="15.8" fill="url(#lg15)"/>
<g clip-path="url(#cp15)">
<path d="M49,553.5 L68,553.5 Q71.2,555.5 68,557.5 L49,557.5 Q45.8,555.5 49,553.5 Z" fill="#646464" filter="url(#bb1_8)"/>
<path d="M50.75,547.55 L66.25,547.55 Q71.45,550.8 66.25,554.05 L50.75,554.05 Q45.55,550.8 50.75,547.55 Z" fill="#191919" filter="url(#bb1_3)"/>
<path d="M81.5,548.5 L99.5,548.5 Q103.5,551 99.5,553.5 L81.5,553.5 Q77.5,551 81.5,548.5 Z" fill="#a0a0a0" filter="url(#bb1_8)"/>
<rect x="43.6" y="543" width="60" height="15.8" filter="url(#noise)" opacity="0.2"/>
</g>
<rect x="43.6" y="543" width="60" height="15.8" fill="none" stroke="#000" stroke-width="1.6"/>
<text x="26" y="553.78" font-size="8" text-anchor="middle" fill="#151515">HNF4α</text>
<clipPath id="cp16"><rect x="43.6" y="562.7" width="60" height="16.1"/></clipPath>
<rect x="43.6" y="562.7" width="60" height="16.1" fill="#8a8a8a"/>
<g clip-path="url(#cp16)">
<path d="M55.5,569.5 L64.5,569.5 Q66.9,571 64.5,572.5 L55.5,572.5 Q53.1,571 55.5,569.5 Z" fill="#696969" filter="url(#bb0_9)"/>
<path d="M80.7,568.6 L96.3,568.6 Q99.02,570.3 96.3,572 L80.7,572 Q77.98,570.3 80.7,568.6 Z" fill="#464646" filter="url(#bb0_9)"/>
<rect x="43.6" y="562.7" width="60" height="16.1" filter="url(#noise)" opacity="0.2"/>
</g>
<rect x="43.6" y="562.7" width="60" height="16.1" fill="none" stroke="#000" stroke-width="1.6"/>
<text x="26" y="573.63" font-size="8" text-anchor="middle" fill="#151515">CCL2</text>
<clipPath id="cp17"><rect x="43.6" y="583.4" width="60" height="16.2"/></clipPath>
<rect x="43.6" y="583.4" width="60" height="16.2" fill="#8e8e8e"/>
<g clip-path="url(#cp17)">
<path d="M51.1,590.3 L66.9,590.3 Q70.26,592.4 66.9,594.5 L51.1,594.5 Q47.74,592.4 51.1,590.3 Z" fill="#505050" filter="url(#bb0_9)"/>
<path d="M81.1,589.3 L96.5,589.3 Q100.5,591.8 96.5,594.3 L81.1,594.3 Q77.1,591.8 81.1,589.3 Z" fill="#282828" filter="url(#bb0_9)"/>
<rect x="43.6" y="583.4" width="60" height="16.2" filter="url(#noise)" opacity="0.2"/>
</g>
<rect x="43.6" y="583.4" width="60" height="16.2" fill="none" stroke="#000" stroke-width="1.6"/>
<text x="26" y="594.38" font-size="8" text-anchor="middle" fill="#151515">p65</text>
<clipPath id="cp18"><rect x="43.6" y="603.9" width="60" height="16.8"/></clipPath>
<rect x="43.6" y="603.9" width="60" height="16.8" fill="#a8a8a8"/>
<g clip-path="url(#cp18)">
<path d="M51.5,610.5 L70.5,610.5 Q72.9,612 70.5,613.5 L51.5,613.5 Q49.1,612 51.5,610.5 Z" fill="#828282" filter="url(#bb0_9)"/>
<path d="M80.9,609.9 L99.1,609.9 Q102.14,611.8 99.1,613.7 L80.9,613.7 Q77.86,611.8 80.9,609.9 Z" fill="#323232" filter="url(#bb0_9)"/>
<rect x="43.6" y="603.9" width="60" height="16.8" filter="url(#noise)" opacity="0.2"/>
</g>
<rect x="43.6" y="603.9" width="60" height="16.8" fill="none" stroke="#000" stroke-width="1.6"/>
<text x="26" y="615.18" font-size="8" text-anchor="middle" fill="#151515">p-p65</text>
<clipPath id="cp19"><rect x="43.6" y="624.6" width="60" height="16.3"/></clipPath>
<rect x="43.6" y="624.6" width="60" height="16.3" fill="#a6a6a6"/>
<g clip-path="url(#cp19)">
<path d="M51,632 L67.1,630.6 Q70.94,633 67.1,635.4 L51,634 Q49.4,633 51,632 Z" fill="#191919" filter="url(#bb0_9)"/>
<path d="M80.6,630.2 L97.4,630.2 Q101.56,632.8 97.4,635.4 L80.6,635.4 Q76.44,632.8 80.6,630.2 Z" fill="#0f0f0f" filter="url(#bb0_9)"/>
<rect x="43.6" y="624.6" width="60" height="16.3" filter="url(#noise)" opacity="0.2"/>
</g>
<rect x="43.6" y="624.6" width="60" height="16.3" fill="none" stroke="#000" stroke-width="1.6"/>
<text x="26" y="635.63" font-size="8" text-anchor="middle" fill="#151515">TNF-α</text>
<clipPath id="cp20"><rect x="43.6" y="645.4" width="60" height="16.2"/></clipPath>
<rect x="43.6" y="645.4" width="60" height="16.2" fill="#8e8e8e"/>
<g clip-path="url(#cp20)">
<path d="M50.2,652.4 L67.2,651.8 Q70.08,653.6 67.2,655.4 L50.2,654.8 Q48.28,653.6 50.2,652.4 Z" fill="#464646" filter="url(#bb0_9)"/>
<path d="M81.2,649.6 L97.8,649.6 Q101.32,651.8 97.8,654 L81.2,654 Q77.68,651.8 81.2,649.6 Z" fill="#1e1e1e" filter="url(#bb0_9)"/>
<rect x="43.6" y="645.4" width="60" height="16.2" filter="url(#noise)" opacity="0.2"/>
</g>
<rect x="43.6" y="645.4" width="60" height="16.2" fill="none" stroke="#000" stroke-width="1.6"/>
<text x="26" y="656.38" font-size="8" text-anchor="middle" fill="#151515">IL6</text>
<clipPath id="cp21"><rect x="43.6" y="665.6" width="60" height="16.4"/></clipPath>
<rect x="43.6" y="665.6" width="60" height="16.4" fill="#f8f8f8"/>
<g clip-path="url(#cp21)">
<path d="M47.4,671.5 L68.1,671.5 Q71.94,673.9 68.1,676.3 L47.4,676.3 Q43.56,673.9 47.4,671.5 Z" fill="#0a0a0a" filter="url(#bb0_9)"/>
<path d="M76.9,671.5 L99.1,671.5 Q102.94,673.9 99.1,676.3 L76.9,676.3 Q73.06,673.9 76.9,671.5 Z" fill="#0a0a0a" filter="url(#bb0_9)"/>
<rect x="43.6" y="665.6" width="60" height="16.4" filter="url(#noise)" opacity="0.06"/>
</g>
<rect x="43.6" y="665.6" width="60" height="16.4" fill="none" stroke="#000" stroke-width="1.6"/>
<text x="26" y="676.68" font-size="8" text-anchor="middle" fill="#151515">β-actin</text>
<rect x="0" y="0" width="520" height="1.3" fill="#000"/>
<rect x="0" y="0" width="1.2" height="690" fill="#000"/>
<rect x="518.3" y="0" width="1.7" height="690" fill="#000"/>
<rect x="0" y="687.7" width="520" height="2.3" fill="#000"/>
</svg></body></html>
